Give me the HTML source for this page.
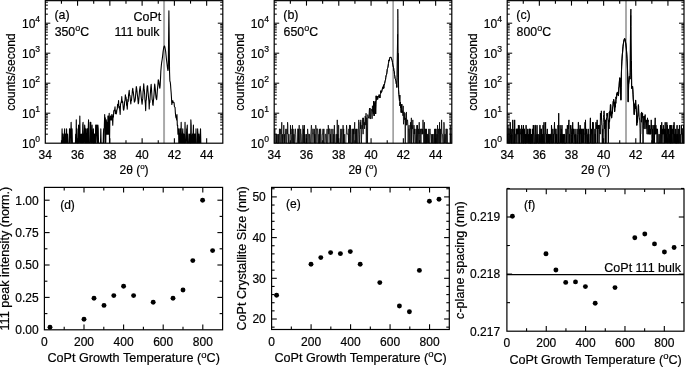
<!DOCTYPE html>
<html><head><meta charset="utf-8"><title>CoPt XRD</title>
<style>html,body{margin:0;padding:0;background:#fff;}svg{display:block;will-change:transform;filter:grayscale(1);}text{stroke:#000;stroke-width:0.2px;}</style></head>
<body>
<svg width="685" height="367" viewBox="0 0 685 367" font-family="'Liberation Sans', sans-serif" fill="#000">
<rect width="685" height="367" fill="#fff"/>
<clipPath id="c0"><rect x="45.3" y="0.65" width="177.5" height="142.55"/></clipPath>
<line x1="164.05" y1="0.65" x2="164.05" y2="143.2" stroke="#aaa" stroke-width="2.0"/>
<polyline clip-path="url(#c0)" fill="none" stroke="#000" stroke-width="1.1" stroke-linejoin="round" points="61.44,149.2 61.76,149.2 62.08,128.89 62.4,149.2 62.73,134.17 63.05,134.17 63.37,143.2 63.7,143.2 64.02,149.2 64.34,134.17 64.66,128.89 64.99,143.2 65.31,149.2 65.63,134.17 65.95,149.2 66.28,143.2 66.6,128.89 66.92,149.2 67.25,143.2 67.57,134.17 67.89,143.2 68.21,143.2 68.54,149.2 68.86,143.2 69.18,143.2 69.5,128.89 69.83,128.89 70.15,149.2 70.47,134.17 70.8,134.17 71.12,122.23 71.44,134.17 71.76,149.2 72.09,128.89 72.41,143.2 72.73,149.2 73.05,149.2 73.38,143.2 73.7,143.2 74.02,143.2 74.35,143.2 74.67,143.2 74.99,143.2 75.31,149.2 75.64,134.17 75.96,149.2 76.28,119.86 76.6,149.2 76.93,128.89 77.25,149.2 77.57,143.2 77.9,149.2 78.22,143.2 78.54,125.14 78.86,149.2 79.19,134.17 79.51,134.17 79.83,116.11 80.15,143.2 80.48,134.17 80.8,143.2 81.12,149.2 81.45,134.17 81.77,143.2 82.09,149.2 82.41,143.2 82.74,125.14 83.06,122.23 83.38,143.2 83.7,143.2 84.03,143.2 84.35,134.17 84.67,125.14 85,128.89 85.32,149.2 85.64,143.2 85.96,128.89 86.29,149.2 86.61,143.2 86.93,143.2 87.25,128.89 87.58,128.89 87.9,149.2 88.22,128.89 88.55,119.86 88.87,149.2 89.19,143.2 89.51,149.2 89.84,149.2 90.16,122.23 90.48,134.17 90.8,122.23 91.13,149.2 91.45,143.2 91.77,143.2 92.1,125.14 92.42,143.2 92.74,134.17 93.06,149.2 93.39,128.89 93.71,149.2 94.03,143.2 94.35,134.17 94.68,134.17 95,143.2 95.32,149.2 95.65,125.14 95.97,149.2 96.29,128.89 96.61,125.14 96.94,125.14 97.26,134.17 97.58,143.2 97.9,125.14 98.23,128.89 98.55,143.2 98.87,143.2 99.2,149.2 99.52,149.2 99.84,143.2 100.16,149.2 100.49,143.2 100.81,128.89 101.13,143.2 101.45,143.2 101.78,143.2 102.1,143.2 102.42,143.2 102.75,149.2 103.07,149.2 103.39,134.17 103.71,128.89 104.04,143.2 104.36,125.14 104.68,114.57 105,125.14 105.33,117.85 105.65,149.2 105.97,128.89 106.3,119.86 106.62,134.17 106.94,122.23 107.26,134.17 107.59,134.17 107.91,116.11 108.23,116.11 108.55,134.17 108.88,125.14 109.2,113.2 109.52,143.2 109.85,119.86 110.17,119.86 110.49,116.11 110.81,116.11 111.14,119.86 111.46,119.86 111.78,114.57 112.1,114.57 112.43,117.85 112.75,125.14 113.07,116.11 113.4,117.19 113.72,111.33 114.04,110.23 114.36,110.69 114.69,109.82 115.01,106.81 115.33,113.67 115.65,111.75 115.98,110.86 116.3,113.92 116.62,112.3 116.95,109.45 117.27,109.13 117.59,104.34 117.91,105.2 118.24,105.78 118.56,100.48 118.88,107.68 119.2,106.17 119.53,107.94 119.85,111.01 120.17,114.42 120.5,104.67 120.82,103 121.14,102.16 121.46,101.03 121.79,96.66 122.11,102.49 122.43,101.15 122.75,102.1 123.08,105.75 123.4,109.59 123.72,110.24 124.05,108.46 124.37,105.35 124.69,101.18 125.01,100.61 125.34,94.92 125.66,96.85 125.98,97.15 126.3,99.55 126.63,105.51 126.95,105.53 127.27,109.25 127.6,103.01 127.92,99.39 128.24,101.48 128.56,95.3 128.89,92.78 129.21,90.29 129.53,95.33 129.85,95.35 130.18,98.05 130.5,101.31 130.82,103.99 131.15,100.02 131.47,100.49 131.79,96.47 132.11,94.46 132.44,90.06 132.76,88.41 133.08,90.93 133.4,92.79 133.73,95.97 134.05,98.81 134.37,102.08 134.7,100.68 135.02,101.05 135.34,98.6 135.66,94.57 135.99,90.64 136.31,86.52 136.63,88.2 136.95,90.76 137.28,94.04 137.6,96.55 137.92,99.79 138.25,103.66 138.57,102.97 138.89,98.71 139.21,95.01 139.54,90.53 139.86,88.25 140.18,86.32 140.5,89.83 140.83,92.2 141.15,96.44 141.47,99.16 141.8,102.14 142.12,104.31 142.44,100.39 142.76,98.64 143.09,91.56 143.41,88.67 143.73,83.87 144.05,88.16 144.38,90.78 144.7,94.91 145.02,100.56 145.35,103.35 145.67,110.6 145.99,100.97 146.31,99.78 146.64,94.17 146.96,88.75 147.28,85.82 147.6,85.89 147.93,90.69 148.25,93.95 148.57,97.92 148.9,101.27 149.22,108.97 149.54,100.81 149.86,102.45 150.19,96.07 150.51,91.29 150.83,87.34 151.15,84.37 151.48,89.06 151.8,93.45 152.12,99.57 152.45,100.29 152.77,104.65 153.09,105.35 153.41,101.22 153.74,97.28 154.06,94.11 154.38,88.06 154.7,84.1 155.03,86.58 155.35,89.91 155.67,94.09 156,97.58 156.32,98.85 156.64,99.67 156.96,96.16 157.29,91.12 157.61,87.66 157.93,84.36 158.25,79.77 158.58,80.5 158.9,82.2 159.22,84.66 159.55,87.16 159.87,88.23 160.19,85.3 160.51,78.55 160.84,71.3 161.16,67.54 161.48,63.93 161.8,61.63 162.13,59.76 162.45,57.39 162.77,54.57 163.1,51.56 163.42,49.51 163.74,47.82 164.06,46.44 164.39,45.92 164.71,46.49 165.03,47.77 165.35,49.53 165.68,51.67 166,54.79 166.32,58.01 166.65,60.96 166.97,63.45 167.29,66.06 167.61,68.68 167.94,70.54 168.26,68.84 168.71,28.49 168.9,10.75 169.1,28.56 169.55,72.27 169.87,81.28 170.2,81.76 170.52,84.36 170.84,88.96 171.16,92.82 171.49,98 171.81,104.53 172.13,102.8 172.45,102.74 172.78,100.62 173.1,101.48 173.42,102.11 173.75,102.61 174.07,102.54 174.39,106.34 174.71,106.97 175.04,107.41 175.36,112.69 175.68,116.11 176,117.85 176.33,116.11 176.65,119.86 176.97,114.57 177.3,125.14 177.62,125.14 177.94,134.17 178.26,134.17 178.59,128.89 178.91,149.2 179.23,134.17 179.55,149.2 179.88,128.89 180.2,143.2 180.52,128.89 180.85,143.2 181.17,122.23 181.49,143.2 181.81,134.17 182.14,149.2 182.46,134.17 182.78,128.89 183.1,143.2 183.43,134.17 183.75,134.17 184.07,149.2 184.4,149.2 184.72,143.2 185.04,122.23 185.36,143.2 185.69,143.2 186.01,143.2 186.33,143.2 186.65,128.89 186.98,128.89 187.3,125.14 187.62,149.2 187.95,149.2 188.27,149.2 188.59,143.2 188.91,134.17 189.24,149.2 189.56,143.2 189.88,134.17 190.2,134.17 190.53,149.2 190.85,119.86 191.17,125.14 191.5,149.2 191.82,143.2 192.14,143.2 192.46,134.17 192.79,149.2 193.11,134.17 193.43,125.14 193.75,149.2 194.08,143.2 194.4,134.17 194.72,149.2 195.05,134.17 195.37,143.2 195.69,143.2 196.01,128.89 196.34,149.2 196.66,149.2 196.98,149.2 197.3,149.2 197.63,128.89 197.95,134.17 198.27,143.2 198.6,149.2 198.92,134.17 199.24,143.2 199.56,149.2 199.89,143.2 200.21,134.17 200.53,128.89 200.85,143.2"/>
<rect x="45.3" y="0.65" width="177.5" height="142.55" fill="none" stroke="#000" stroke-width="1.2"/>
<line x1="61.44" y1="143.2" x2="61.44" y2="140.2" stroke="#000" stroke-width="1.1"/>
<line x1="61.44" y1="0.65" x2="61.44" y2="3.65" stroke="#000" stroke-width="1.1"/>
<line x1="77.57" y1="143.2" x2="77.57" y2="138.2" stroke="#000" stroke-width="1.1"/>
<line x1="77.57" y1="0.65" x2="77.57" y2="5.65" stroke="#000" stroke-width="1.1"/>
<line x1="93.71" y1="143.2" x2="93.71" y2="140.2" stroke="#000" stroke-width="1.1"/>
<line x1="93.71" y1="0.65" x2="93.71" y2="3.65" stroke="#000" stroke-width="1.1"/>
<line x1="109.85" y1="143.2" x2="109.85" y2="138.2" stroke="#000" stroke-width="1.1"/>
<line x1="109.85" y1="0.65" x2="109.85" y2="5.65" stroke="#000" stroke-width="1.1"/>
<line x1="125.98" y1="143.2" x2="125.98" y2="140.2" stroke="#000" stroke-width="1.1"/>
<line x1="125.98" y1="0.65" x2="125.98" y2="3.65" stroke="#000" stroke-width="1.1"/>
<line x1="142.12" y1="143.2" x2="142.12" y2="138.2" stroke="#000" stroke-width="1.1"/>
<line x1="142.12" y1="0.65" x2="142.12" y2="5.65" stroke="#000" stroke-width="1.1"/>
<line x1="158.25" y1="143.2" x2="158.25" y2="140.2" stroke="#000" stroke-width="1.1"/>
<line x1="158.25" y1="0.65" x2="158.25" y2="3.65" stroke="#000" stroke-width="1.1"/>
<line x1="174.39" y1="143.2" x2="174.39" y2="138.2" stroke="#000" stroke-width="1.1"/>
<line x1="174.39" y1="0.65" x2="174.39" y2="5.65" stroke="#000" stroke-width="1.1"/>
<line x1="190.53" y1="143.2" x2="190.53" y2="140.2" stroke="#000" stroke-width="1.1"/>
<line x1="190.53" y1="0.65" x2="190.53" y2="3.65" stroke="#000" stroke-width="1.1"/>
<line x1="206.66" y1="143.2" x2="206.66" y2="138.2" stroke="#000" stroke-width="1.1"/>
<line x1="206.66" y1="0.65" x2="206.66" y2="5.65" stroke="#000" stroke-width="1.1"/>
<text x="45.3" y="158.6" text-anchor="middle" font-size="12" >34</text>
<text x="77.57" y="158.6" text-anchor="middle" font-size="12" >36</text>
<text x="109.85" y="158.6" text-anchor="middle" font-size="12" >38</text>
<text x="142.12" y="158.6" text-anchor="middle" font-size="12" >40</text>
<text x="174.39" y="158.6" text-anchor="middle" font-size="12" >42</text>
<text x="206.66" y="158.6" text-anchor="middle" font-size="12" >44</text>
<line x1="45.3" y1="134.17" x2="47.9" y2="134.17" stroke="#000" stroke-width="1.0"/>
<line x1="222.8" y1="134.17" x2="220.2" y2="134.17" stroke="#000" stroke-width="1.0"/>
<line x1="45.3" y1="128.89" x2="47.9" y2="128.89" stroke="#000" stroke-width="1.0"/>
<line x1="222.8" y1="128.89" x2="220.2" y2="128.89" stroke="#000" stroke-width="1.0"/>
<line x1="45.3" y1="125.14" x2="47.9" y2="125.14" stroke="#000" stroke-width="1.0"/>
<line x1="222.8" y1="125.14" x2="220.2" y2="125.14" stroke="#000" stroke-width="1.0"/>
<line x1="45.3" y1="122.23" x2="47.9" y2="122.23" stroke="#000" stroke-width="1.0"/>
<line x1="222.8" y1="122.23" x2="220.2" y2="122.23" stroke="#000" stroke-width="1.0"/>
<line x1="45.3" y1="119.86" x2="47.9" y2="119.86" stroke="#000" stroke-width="1.0"/>
<line x1="222.8" y1="119.86" x2="220.2" y2="119.86" stroke="#000" stroke-width="1.0"/>
<line x1="45.3" y1="117.85" x2="47.9" y2="117.85" stroke="#000" stroke-width="1.0"/>
<line x1="222.8" y1="117.85" x2="220.2" y2="117.85" stroke="#000" stroke-width="1.0"/>
<line x1="45.3" y1="116.11" x2="47.9" y2="116.11" stroke="#000" stroke-width="1.0"/>
<line x1="222.8" y1="116.11" x2="220.2" y2="116.11" stroke="#000" stroke-width="1.0"/>
<line x1="45.3" y1="114.57" x2="47.9" y2="114.57" stroke="#000" stroke-width="1.0"/>
<line x1="222.8" y1="114.57" x2="220.2" y2="114.57" stroke="#000" stroke-width="1.0"/>
<line x1="45.3" y1="113.2" x2="50.3" y2="113.2" stroke="#000" stroke-width="1.0"/>
<line x1="222.8" y1="113.2" x2="217.8" y2="113.2" stroke="#000" stroke-width="1.0"/>
<line x1="45.3" y1="104.17" x2="47.9" y2="104.17" stroke="#000" stroke-width="1.0"/>
<line x1="222.8" y1="104.17" x2="220.2" y2="104.17" stroke="#000" stroke-width="1.0"/>
<line x1="45.3" y1="98.89" x2="47.9" y2="98.89" stroke="#000" stroke-width="1.0"/>
<line x1="222.8" y1="98.89" x2="220.2" y2="98.89" stroke="#000" stroke-width="1.0"/>
<line x1="45.3" y1="95.14" x2="47.9" y2="95.14" stroke="#000" stroke-width="1.0"/>
<line x1="222.8" y1="95.14" x2="220.2" y2="95.14" stroke="#000" stroke-width="1.0"/>
<line x1="45.3" y1="92.23" x2="47.9" y2="92.23" stroke="#000" stroke-width="1.0"/>
<line x1="222.8" y1="92.23" x2="220.2" y2="92.23" stroke="#000" stroke-width="1.0"/>
<line x1="45.3" y1="89.86" x2="47.9" y2="89.86" stroke="#000" stroke-width="1.0"/>
<line x1="222.8" y1="89.86" x2="220.2" y2="89.86" stroke="#000" stroke-width="1.0"/>
<line x1="45.3" y1="87.85" x2="47.9" y2="87.85" stroke="#000" stroke-width="1.0"/>
<line x1="222.8" y1="87.85" x2="220.2" y2="87.85" stroke="#000" stroke-width="1.0"/>
<line x1="45.3" y1="86.11" x2="47.9" y2="86.11" stroke="#000" stroke-width="1.0"/>
<line x1="222.8" y1="86.11" x2="220.2" y2="86.11" stroke="#000" stroke-width="1.0"/>
<line x1="45.3" y1="84.57" x2="47.9" y2="84.57" stroke="#000" stroke-width="1.0"/>
<line x1="222.8" y1="84.57" x2="220.2" y2="84.57" stroke="#000" stroke-width="1.0"/>
<line x1="45.3" y1="83.2" x2="50.3" y2="83.2" stroke="#000" stroke-width="1.0"/>
<line x1="222.8" y1="83.2" x2="217.8" y2="83.2" stroke="#000" stroke-width="1.0"/>
<line x1="45.3" y1="74.17" x2="47.9" y2="74.17" stroke="#000" stroke-width="1.0"/>
<line x1="222.8" y1="74.17" x2="220.2" y2="74.17" stroke="#000" stroke-width="1.0"/>
<line x1="45.3" y1="68.89" x2="47.9" y2="68.89" stroke="#000" stroke-width="1.0"/>
<line x1="222.8" y1="68.89" x2="220.2" y2="68.89" stroke="#000" stroke-width="1.0"/>
<line x1="45.3" y1="65.14" x2="47.9" y2="65.14" stroke="#000" stroke-width="1.0"/>
<line x1="222.8" y1="65.14" x2="220.2" y2="65.14" stroke="#000" stroke-width="1.0"/>
<line x1="45.3" y1="62.23" x2="47.9" y2="62.23" stroke="#000" stroke-width="1.0"/>
<line x1="222.8" y1="62.23" x2="220.2" y2="62.23" stroke="#000" stroke-width="1.0"/>
<line x1="45.3" y1="59.86" x2="47.9" y2="59.86" stroke="#000" stroke-width="1.0"/>
<line x1="222.8" y1="59.86" x2="220.2" y2="59.86" stroke="#000" stroke-width="1.0"/>
<line x1="45.3" y1="57.85" x2="47.9" y2="57.85" stroke="#000" stroke-width="1.0"/>
<line x1="222.8" y1="57.85" x2="220.2" y2="57.85" stroke="#000" stroke-width="1.0"/>
<line x1="45.3" y1="56.11" x2="47.9" y2="56.11" stroke="#000" stroke-width="1.0"/>
<line x1="222.8" y1="56.11" x2="220.2" y2="56.11" stroke="#000" stroke-width="1.0"/>
<line x1="45.3" y1="54.57" x2="47.9" y2="54.57" stroke="#000" stroke-width="1.0"/>
<line x1="222.8" y1="54.57" x2="220.2" y2="54.57" stroke="#000" stroke-width="1.0"/>
<line x1="45.3" y1="53.2" x2="50.3" y2="53.2" stroke="#000" stroke-width="1.0"/>
<line x1="222.8" y1="53.2" x2="217.8" y2="53.2" stroke="#000" stroke-width="1.0"/>
<line x1="45.3" y1="44.17" x2="47.9" y2="44.17" stroke="#000" stroke-width="1.0"/>
<line x1="222.8" y1="44.17" x2="220.2" y2="44.17" stroke="#000" stroke-width="1.0"/>
<line x1="45.3" y1="38.89" x2="47.9" y2="38.89" stroke="#000" stroke-width="1.0"/>
<line x1="222.8" y1="38.89" x2="220.2" y2="38.89" stroke="#000" stroke-width="1.0"/>
<line x1="45.3" y1="35.14" x2="47.9" y2="35.14" stroke="#000" stroke-width="1.0"/>
<line x1="222.8" y1="35.14" x2="220.2" y2="35.14" stroke="#000" stroke-width="1.0"/>
<line x1="45.3" y1="32.23" x2="47.9" y2="32.23" stroke="#000" stroke-width="1.0"/>
<line x1="222.8" y1="32.23" x2="220.2" y2="32.23" stroke="#000" stroke-width="1.0"/>
<line x1="45.3" y1="29.86" x2="47.9" y2="29.86" stroke="#000" stroke-width="1.0"/>
<line x1="222.8" y1="29.86" x2="220.2" y2="29.86" stroke="#000" stroke-width="1.0"/>
<line x1="45.3" y1="27.85" x2="47.9" y2="27.85" stroke="#000" stroke-width="1.0"/>
<line x1="222.8" y1="27.85" x2="220.2" y2="27.85" stroke="#000" stroke-width="1.0"/>
<line x1="45.3" y1="26.11" x2="47.9" y2="26.11" stroke="#000" stroke-width="1.0"/>
<line x1="222.8" y1="26.11" x2="220.2" y2="26.11" stroke="#000" stroke-width="1.0"/>
<line x1="45.3" y1="24.57" x2="47.9" y2="24.57" stroke="#000" stroke-width="1.0"/>
<line x1="222.8" y1="24.57" x2="220.2" y2="24.57" stroke="#000" stroke-width="1.0"/>
<line x1="45.3" y1="23.2" x2="50.3" y2="23.2" stroke="#000" stroke-width="1.0"/>
<line x1="222.8" y1="23.2" x2="217.8" y2="23.2" stroke="#000" stroke-width="1.0"/>
<line x1="45.3" y1="14.17" x2="47.9" y2="14.17" stroke="#000" stroke-width="1.0"/>
<line x1="222.8" y1="14.17" x2="220.2" y2="14.17" stroke="#000" stroke-width="1.0"/>
<line x1="45.3" y1="8.89" x2="47.9" y2="8.89" stroke="#000" stroke-width="1.0"/>
<line x1="222.8" y1="8.89" x2="220.2" y2="8.89" stroke="#000" stroke-width="1.0"/>
<line x1="45.3" y1="5.14" x2="47.9" y2="5.14" stroke="#000" stroke-width="1.0"/>
<line x1="222.8" y1="5.14" x2="220.2" y2="5.14" stroke="#000" stroke-width="1.0"/>
<line x1="45.3" y1="2.23" x2="47.9" y2="2.23" stroke="#000" stroke-width="1.0"/>
<line x1="222.8" y1="2.23" x2="220.2" y2="2.23" stroke="#000" stroke-width="1.0"/>
<text x="40.1" y="147.6" text-anchor="end" font-size="12">10<tspan font-size="8.6" dy="-5.2">0</tspan></text>
<text x="40.1" y="117.6" text-anchor="end" font-size="12">10<tspan font-size="8.6" dy="-5.2">1</tspan></text>
<text x="40.1" y="87.6" text-anchor="end" font-size="12">10<tspan font-size="8.6" dy="-5.2">2</tspan></text>
<text x="40.1" y="57.6" text-anchor="end" font-size="12">10<tspan font-size="8.6" dy="-5.2">3</tspan></text>
<text x="40.1" y="27.6" text-anchor="end" font-size="12">10<tspan font-size="8.6" dy="-5.2">4</tspan></text>
<text transform="translate(15.2 72) rotate(-90)" text-anchor="middle" font-size="12">counts/second</text>
<text x="134.05" y="173.8" text-anchor="middle" font-size="12">2&#952; (<tspan font-size="8" dy="-4.7">o</tspan><tspan dy="4.7">)</tspan></text>
<text x="54.4" y="19.3" text-anchor="start" font-size="12.4" >(a)</text>
<text x="54.7" y="35.9" text-anchor="start" font-size="12.3" >350<tspan font-size="9" dy="-4.7">o</tspan><tspan dy="4.7">C</tspan></text>
<text x="161.2" y="21" text-anchor="end" font-size="12.45" >CoPt</text>
<text x="159.6" y="36.4" text-anchor="end" font-size="12.45" >111 bulk</text>
<clipPath id="c1"><rect x="274.2" y="0.65" width="177.6" height="142.55"/></clipPath>
<line x1="393.1" y1="0.65" x2="393.1" y2="143.2" stroke="#858585" stroke-width="1.3"/>
<polyline clip-path="url(#c1)" fill="none" stroke="#000" stroke-width="0.8" stroke-linejoin="round" points="274.2,143.2 274.49,149.2 274.78,128.89 275.07,143.2 275.36,149.2 275.65,149.2 275.94,134.17 276.23,134.17 276.52,143.2 276.82,134.17 277.11,143.2 277.4,143.2 277.69,149.2 277.98,134.17 278.27,149.2 278.56,149.2 278.85,134.17 279.14,143.2 279.43,128.89 279.72,128.89 280.01,134.17 280.3,128.89 280.59,149.2 280.88,149.2 281.17,149.2 281.47,134.17 281.76,122.23 282.05,143.2 282.34,143.2 282.63,134.17 282.92,149.2 283.21,143.2 283.5,134.17 283.79,125.14 284.08,134.17 284.37,143.2 284.66,134.17 284.95,143.2 285.24,134.17 285.53,134.17 285.82,128.89 286.12,149.2 286.41,149.2 286.7,134.17 286.99,128.89 287.28,134.17 287.57,122.23 287.86,125.14 288.15,149.2 288.44,143.2 288.73,134.17 289.02,134.17 289.31,149.2 289.6,143.2 289.89,143.2 290.18,149.2 290.47,125.14 290.77,134.17 291.06,128.89 291.35,134.17 291.64,143.2 291.93,143.2 292.22,134.17 292.51,125.14 292.8,143.2 293.09,128.89 293.38,143.2 293.67,143.2 293.96,134.17 294.25,149.2 294.54,143.2 294.83,134.17 295.12,128.89 295.42,128.89 295.71,134.17 296,143.2 296.29,149.2 296.58,143.2 296.87,149.2 297.16,149.2 297.45,143.2 297.74,128.89 298.03,128.89 298.32,143.2 298.61,128.89 298.9,149.2 299.19,125.14 299.48,143.2 299.77,149.2 300.07,143.2 300.36,143.2 300.65,128.89 300.94,134.17 301.23,134.17 301.52,143.2 301.81,143.2 302.1,149.2 302.39,149.2 302.68,134.17 302.97,125.14 303.26,143.2 303.55,128.89 303.84,134.17 304.13,143.2 304.42,125.14 304.71,143.2 305.01,134.17 305.3,149.2 305.59,143.2 305.88,143.2 306.17,143.2 306.46,134.17 306.75,143.2 307.04,143.2 307.33,149.2 307.62,128.89 307.91,134.17 308.2,134.17 308.49,134.17 308.78,143.2 309.07,143.2 309.36,134.17 309.66,134.17 309.95,149.2 310.24,143.2 310.53,143.2 310.82,134.17 311.11,128.89 311.4,125.14 311.69,128.89 311.98,149.2 312.27,134.17 312.56,134.17 312.85,128.89 313.14,128.89 313.43,134.17 313.72,134.17 314.01,143.2 314.31,128.89 314.6,143.2 314.89,134.17 315.18,149.2 315.47,143.2 315.76,125.14 316.05,128.89 316.34,128.89 316.63,128.89 316.92,143.2 317.21,128.89 317.5,128.89 317.79,128.89 318.08,134.17 318.37,143.2 318.66,149.2 318.96,134.17 319.25,149.2 319.54,128.89 319.83,143.2 320.12,149.2 320.41,128.89 320.7,128.89 320.99,143.2 321.28,143.2 321.57,143.2 321.86,143.2 322.15,134.17 322.44,134.17 322.73,134.17 323.02,128.89 323.31,149.2 323.61,143.2 323.9,128.89 324.19,149.2 324.48,143.2 324.77,143.2 325.06,143.2 325.35,134.17 325.64,134.17 325.93,134.17 326.22,143.2 326.51,149.2 326.8,134.17 327.09,128.89 327.38,149.2 327.67,143.2 327.96,149.2 328.25,125.14 328.55,128.89 328.84,134.17 329.13,128.89 329.42,128.89 329.71,128.89 330,149.2 330.29,134.17 330.58,143.2 330.87,134.17 331.16,128.89 331.45,143.2 331.74,143.2 332.03,143.2 332.32,143.2 332.61,143.2 332.9,128.89 333.2,143.2 333.49,149.2 333.78,134.17 334.07,143.2 334.36,125.14 334.65,134.17 334.94,143.2 335.23,149.2 335.52,143.2 335.81,149.2 336.1,134.17 336.39,134.17 336.68,149.2 336.97,143.2 337.26,119.86 337.55,143.2 337.85,134.17 338.14,143.2 338.43,125.14 338.72,125.14 339.01,149.2 339.3,143.2 339.59,143.2 339.88,149.2 340.17,149.2 340.46,143.2 340.75,128.89 341.04,143.2 341.33,134.17 341.62,134.17 341.91,128.89 342.2,149.2 342.5,149.2 342.79,149.2 343.08,125.14 343.37,149.2 343.66,128.89 343.95,143.2 344.24,134.17 344.53,143.2 344.82,143.2 345.11,143.2 345.4,143.2 345.69,149.2 345.98,134.17 346.27,134.17 346.56,125.14 346.85,128.89 347.15,134.17 347.44,134.17 347.73,134.17 348.02,134.17 348.31,134.17 348.6,143.2 348.89,128.89 349.18,143.2 349.47,125.14 349.76,125.14 350.05,143.2 350.34,125.14 350.63,134.17 350.92,149.2 351.21,143.2 351.5,143.2 351.8,149.2 352.09,128.89 352.38,149.2 352.67,149.2 352.96,128.89 353.25,143.2 353.54,128.89 353.83,134.17 354.12,128.89 354.41,128.89 354.7,122.23 354.99,143.2 355.28,128.89 355.57,134.17 355.86,143.2 356.15,134.17 356.44,128.89 356.74,149.2 357.03,128.89 357.32,143.2 357.61,149.2 357.9,143.2 358.19,143.2 358.48,125.14 358.77,119.86 359.06,128.89 359.35,134.17 359.64,149.2 359.93,128.89 360.22,122.23 360.51,128.89 360.8,119.86 361.09,125.14 361.39,143.2 361.68,134.17 361.97,125.14 362.26,128.89 362.55,119.86 362.84,117.85 363.13,134.17 363.42,117.85 363.71,122.23 364,125.14 364.29,122.23 364.58,128.89 364.87,122.23 365.16,116.11 365.45,117.85 365.74,125.14 366.04,113.2 366.33,143.2 366.62,117.85 366.91,117.85 367.2,125.14 367.49,143.2 367.78,114.57 368.07,116.11 368.36,118.24 368.65,116.63 368.94,115.91 369.23,110.96 369.52,108.14 369.81,118.5 370.1,108.04 370.39,117.34 370.69,119.05 370.98,114.67 371.27,109.09 371.56,109.25 371.85,111.55 372.14,118.72 372.43,105.75 372.72,111.59 373.01,109.33 373.3,113.69 373.59,101.17 373.88,109.63 374.17,115.84 374.46,102.9 374.75,105.75 375.04,101.72 375.34,101.28 375.63,113.94 375.92,104.19 376.21,95.83 376.5,100.17 376.79,99.6 377.08,97.62 377.37,96.54 377.66,99.31 377.95,96.46 378.24,96.26 378.53,97.05 378.82,97.15 379.11,94.79 379.4,95.15 379.69,97.75 379.99,98.02 380.28,94.37 380.57,93.86 380.86,90.73 381.15,92.49 381.44,91.88 381.73,91.83 382.02,90.17 382.31,89.2 382.6,87.52 382.89,89.02 383.18,86.79 383.47,85.48 383.76,88.23 384.05,84.53 384.34,85.05 384.63,83.44 384.93,81.9 385.22,80.66 385.51,79.89 385.8,77.44 386.09,75.7 386.38,74.97 386.67,74.18 386.96,72.17 387.25,69.26 387.54,68.44 387.83,67.48 388.12,66.07 388.41,63.61 388.7,62.1 388.99,59.89 389.28,60.75 389.58,58.86 389.87,57.76 390.16,57.08 390.45,57.77 390.74,56.93 391.03,57.43 391.32,57.96 391.61,58.74 391.9,60.2 392.19,60.58 392.48,62.55 392.77,64.51 393.06,65.75 393.35,67.09 393.64,67.97 393.93,71.07 394.23,71.28 394.52,74.72 394.81,76.19 395.1,78.68 395.39,78.92 395.68,80.45 395.97,81.03 396.26,83.81 396.55,84.44 396.84,87.41 397.13,77.81 397.6,34.14 397.79,9.11 397.99,18.33 398.29,53.11 398.58,89.8 398.88,94.52 399.17,96.83 399.46,100.62 399.75,95.09 400.04,105.95 400.33,102.16 400.62,107.6 400.91,106.17 401.2,112.51 401.49,106.83 401.78,104.22 402.07,112.89 402.36,110.71 402.65,110.85 402.94,115.83 403.23,105.89 403.53,124.28 403.82,121.14 404.11,111.92 404.4,116.95 404.69,119.86 404.98,113.2 405.27,149.2 405.56,117.85 405.85,119.86 406.14,125.14 406.43,111.96 406.72,125.14 407.01,125.14 407.3,119.86 407.59,119.86 407.88,125.14 408.17,143.2 408.47,128.89 408.76,128.89 409.05,125.14 409.34,143.2 409.63,128.89 409.92,128.89 410.21,128.89 410.5,122.23 410.79,143.2 411.08,134.17 411.37,117.85 411.66,149.2 411.95,125.14 412.24,128.89 412.53,128.89 412.82,119.86 413.12,134.17 413.41,143.2 413.7,134.17 413.99,125.14 414.28,134.17 414.57,128.89 414.86,143.2 415.15,143.2 415.44,143.2 415.73,134.17 416.02,128.89 416.31,134.17 416.6,143.2 416.89,125.14 417.18,149.2 417.47,125.14 417.77,134.17 418.06,143.2 418.35,143.2 418.64,128.89 418.93,134.17 419.22,122.23 419.51,134.17 419.8,143.2 420.09,134.17 420.38,128.89 420.67,134.17 420.96,143.2 421.25,128.89 421.54,128.89 421.83,134.17 422.12,134.17 422.42,128.89 422.71,134.17 423,119.86 423.29,128.89 423.58,134.17 423.87,149.2 424.16,125.14 424.45,122.23 424.74,143.2 425.03,128.89 425.32,149.2 425.61,128.89 425.9,134.17 426.19,149.2 426.48,128.89 426.77,143.2 427.07,134.17 427.36,143.2 427.65,134.17 427.94,134.17 428.23,134.17 428.52,143.2 428.81,128.89 429.1,149.2 429.39,149.2 429.68,134.17 429.97,128.89 430.26,134.17 430.55,134.17 430.84,134.17 431.13,143.2 431.42,143.2 431.72,134.17 432.01,143.2 432.3,143.2 432.59,134.17 432.88,149.2 433.17,149.2 433.46,149.2 433.75,134.17 434.04,134.17 434.33,143.2 434.62,128.89 434.91,149.2 435.2,143.2 435.49,128.89 435.78,143.2 436.07,128.89 436.36,143.2 436.66,143.2 436.95,134.17 437.24,149.2 437.53,125.14 437.82,134.17 438.11,143.2 438.4,134.17 438.69,128.89 438.98,143.2 439.27,143.2 439.56,122.23 439.85,143.2 440.14,143.2 440.43,128.89 440.72,149.2 441.01,143.2 441.31,134.17 441.6,119.86 441.89,134.17 442.18,134.17 442.47,134.17 442.76,143.2 443.05,143.2 443.34,149.2 443.63,134.17 443.92,122.23 444.21,125.14 444.5,143.2 444.79,134.17 445.08,134.17 445.37,134.17 445.66,143.2 445.96,128.89 446.25,128.89 446.54,134.17 446.83,149.2 447.12,128.89 447.41,143.2 447.7,149.2 447.99,143.2 448.28,143.2 448.57,143.2 448.86,149.2 449.15,143.2 449.44,149.2 449.73,149.2 450.02,143.2 450.31,125.14 450.61,149.2 450.9,134.17 451.19,149.2 451.48,149.2 451.77,143.2"/>
<polyline clip-path="url(#c1)" fill="none" stroke="#000" stroke-width="1.0" stroke-linejoin="round" points="373.3,113.69 373.59,101.17 373.88,109.63 374.17,115.84 374.46,102.9 374.75,105.75 375.04,101.72 375.34,101.28 375.63,113.94 375.92,104.19 376.21,95.83 376.5,100.17 376.79,99.6 377.08,97.62 377.37,96.54 377.66,99.31 377.95,96.46 378.24,96.26 378.53,97.05 378.82,97.15 379.11,94.79 379.4,95.15 379.69,97.75 379.99,98.02 380.28,94.37 380.57,93.86 380.86,90.73 381.15,92.49 381.44,91.88 381.73,91.83 382.02,90.17 382.31,89.2 382.6,87.52 382.89,89.02 383.18,86.79 383.47,85.48 383.76,88.23 384.05,84.53 384.34,85.05 384.63,83.44 384.93,81.9 385.22,80.66 385.51,79.89 385.8,77.44 386.09,75.7 386.38,74.97 386.67,74.18 386.96,72.17 387.25,69.26 387.54,68.44 387.83,67.48 388.12,66.07 388.41,63.61 388.7,62.1 388.99,59.89 389.28,60.75 389.58,58.86 389.87,57.76 390.16,57.08 390.45,57.77 390.74,56.93 391.03,57.43 391.32,57.96 391.61,58.74 391.9,60.2 392.19,60.58 392.48,62.55 392.77,64.51 393.06,65.75 393.35,67.09 393.64,67.97 393.93,71.07 394.23,71.28 394.52,74.72 394.81,76.19 395.1,78.68 395.39,78.92 395.68,80.45 395.97,81.03 396.26,83.81 396.55,84.44 396.84,87.41 397.13,77.81 397.6,34.14"/>
<polyline clip-path="url(#c1)" fill="none" stroke="#000" stroke-width="1.0" stroke-linejoin="round" points="398.29,53.11 398.58,89.8 398.88,94.52 399.17,96.83 399.46,100.62 399.75,95.09 400.04,105.95 400.33,102.16 400.62,107.6 400.91,106.17 401.2,112.51 401.49,106.83 401.78,104.22 402.07,112.89"/>
<rect x="274.2" y="0.65" width="177.6" height="142.55" fill="none" stroke="#000" stroke-width="1.2"/>
<line x1="290.35" y1="143.2" x2="290.35" y2="140.2" stroke="#000" stroke-width="1.1"/>
<line x1="290.35" y1="0.65" x2="290.35" y2="3.65" stroke="#000" stroke-width="1.1"/>
<line x1="306.49" y1="143.2" x2="306.49" y2="138.2" stroke="#000" stroke-width="1.1"/>
<line x1="306.49" y1="0.65" x2="306.49" y2="5.65" stroke="#000" stroke-width="1.1"/>
<line x1="322.64" y1="143.2" x2="322.64" y2="140.2" stroke="#000" stroke-width="1.1"/>
<line x1="322.64" y1="0.65" x2="322.64" y2="3.65" stroke="#000" stroke-width="1.1"/>
<line x1="338.78" y1="143.2" x2="338.78" y2="138.2" stroke="#000" stroke-width="1.1"/>
<line x1="338.78" y1="0.65" x2="338.78" y2="5.65" stroke="#000" stroke-width="1.1"/>
<line x1="354.93" y1="143.2" x2="354.93" y2="140.2" stroke="#000" stroke-width="1.1"/>
<line x1="354.93" y1="0.65" x2="354.93" y2="3.65" stroke="#000" stroke-width="1.1"/>
<line x1="371.07" y1="143.2" x2="371.07" y2="138.2" stroke="#000" stroke-width="1.1"/>
<line x1="371.07" y1="0.65" x2="371.07" y2="5.65" stroke="#000" stroke-width="1.1"/>
<line x1="387.22" y1="143.2" x2="387.22" y2="140.2" stroke="#000" stroke-width="1.1"/>
<line x1="387.22" y1="0.65" x2="387.22" y2="3.65" stroke="#000" stroke-width="1.1"/>
<line x1="403.36" y1="143.2" x2="403.36" y2="138.2" stroke="#000" stroke-width="1.1"/>
<line x1="403.36" y1="0.65" x2="403.36" y2="5.65" stroke="#000" stroke-width="1.1"/>
<line x1="419.51" y1="143.2" x2="419.51" y2="140.2" stroke="#000" stroke-width="1.1"/>
<line x1="419.51" y1="0.65" x2="419.51" y2="3.65" stroke="#000" stroke-width="1.1"/>
<line x1="435.65" y1="143.2" x2="435.65" y2="138.2" stroke="#000" stroke-width="1.1"/>
<line x1="435.65" y1="0.65" x2="435.65" y2="5.65" stroke="#000" stroke-width="1.1"/>
<text x="274.2" y="158.6" text-anchor="middle" font-size="12" >34</text>
<text x="306.49" y="158.6" text-anchor="middle" font-size="12" >36</text>
<text x="338.78" y="158.6" text-anchor="middle" font-size="12" >38</text>
<text x="371.07" y="158.6" text-anchor="middle" font-size="12" >40</text>
<text x="403.36" y="158.6" text-anchor="middle" font-size="12" >42</text>
<text x="435.65" y="158.6" text-anchor="middle" font-size="12" >44</text>
<line x1="274.2" y1="134.17" x2="276.8" y2="134.17" stroke="#000" stroke-width="1.0"/>
<line x1="451.8" y1="134.17" x2="449.2" y2="134.17" stroke="#000" stroke-width="1.0"/>
<line x1="274.2" y1="128.89" x2="276.8" y2="128.89" stroke="#000" stroke-width="1.0"/>
<line x1="451.8" y1="128.89" x2="449.2" y2="128.89" stroke="#000" stroke-width="1.0"/>
<line x1="274.2" y1="125.14" x2="276.8" y2="125.14" stroke="#000" stroke-width="1.0"/>
<line x1="451.8" y1="125.14" x2="449.2" y2="125.14" stroke="#000" stroke-width="1.0"/>
<line x1="274.2" y1="122.23" x2="276.8" y2="122.23" stroke="#000" stroke-width="1.0"/>
<line x1="451.8" y1="122.23" x2="449.2" y2="122.23" stroke="#000" stroke-width="1.0"/>
<line x1="274.2" y1="119.86" x2="276.8" y2="119.86" stroke="#000" stroke-width="1.0"/>
<line x1="451.8" y1="119.86" x2="449.2" y2="119.86" stroke="#000" stroke-width="1.0"/>
<line x1="274.2" y1="117.85" x2="276.8" y2="117.85" stroke="#000" stroke-width="1.0"/>
<line x1="451.8" y1="117.85" x2="449.2" y2="117.85" stroke="#000" stroke-width="1.0"/>
<line x1="274.2" y1="116.11" x2="276.8" y2="116.11" stroke="#000" stroke-width="1.0"/>
<line x1="451.8" y1="116.11" x2="449.2" y2="116.11" stroke="#000" stroke-width="1.0"/>
<line x1="274.2" y1="114.57" x2="276.8" y2="114.57" stroke="#000" stroke-width="1.0"/>
<line x1="451.8" y1="114.57" x2="449.2" y2="114.57" stroke="#000" stroke-width="1.0"/>
<line x1="274.2" y1="113.2" x2="279.2" y2="113.2" stroke="#000" stroke-width="1.0"/>
<line x1="451.8" y1="113.2" x2="446.8" y2="113.2" stroke="#000" stroke-width="1.0"/>
<line x1="274.2" y1="104.17" x2="276.8" y2="104.17" stroke="#000" stroke-width="1.0"/>
<line x1="451.8" y1="104.17" x2="449.2" y2="104.17" stroke="#000" stroke-width="1.0"/>
<line x1="274.2" y1="98.89" x2="276.8" y2="98.89" stroke="#000" stroke-width="1.0"/>
<line x1="451.8" y1="98.89" x2="449.2" y2="98.89" stroke="#000" stroke-width="1.0"/>
<line x1="274.2" y1="95.14" x2="276.8" y2="95.14" stroke="#000" stroke-width="1.0"/>
<line x1="451.8" y1="95.14" x2="449.2" y2="95.14" stroke="#000" stroke-width="1.0"/>
<line x1="274.2" y1="92.23" x2="276.8" y2="92.23" stroke="#000" stroke-width="1.0"/>
<line x1="451.8" y1="92.23" x2="449.2" y2="92.23" stroke="#000" stroke-width="1.0"/>
<line x1="274.2" y1="89.86" x2="276.8" y2="89.86" stroke="#000" stroke-width="1.0"/>
<line x1="451.8" y1="89.86" x2="449.2" y2="89.86" stroke="#000" stroke-width="1.0"/>
<line x1="274.2" y1="87.85" x2="276.8" y2="87.85" stroke="#000" stroke-width="1.0"/>
<line x1="451.8" y1="87.85" x2="449.2" y2="87.85" stroke="#000" stroke-width="1.0"/>
<line x1="274.2" y1="86.11" x2="276.8" y2="86.11" stroke="#000" stroke-width="1.0"/>
<line x1="451.8" y1="86.11" x2="449.2" y2="86.11" stroke="#000" stroke-width="1.0"/>
<line x1="274.2" y1="84.57" x2="276.8" y2="84.57" stroke="#000" stroke-width="1.0"/>
<line x1="451.8" y1="84.57" x2="449.2" y2="84.57" stroke="#000" stroke-width="1.0"/>
<line x1="274.2" y1="83.2" x2="279.2" y2="83.2" stroke="#000" stroke-width="1.0"/>
<line x1="451.8" y1="83.2" x2="446.8" y2="83.2" stroke="#000" stroke-width="1.0"/>
<line x1="274.2" y1="74.17" x2="276.8" y2="74.17" stroke="#000" stroke-width="1.0"/>
<line x1="451.8" y1="74.17" x2="449.2" y2="74.17" stroke="#000" stroke-width="1.0"/>
<line x1="274.2" y1="68.89" x2="276.8" y2="68.89" stroke="#000" stroke-width="1.0"/>
<line x1="451.8" y1="68.89" x2="449.2" y2="68.89" stroke="#000" stroke-width="1.0"/>
<line x1="274.2" y1="65.14" x2="276.8" y2="65.14" stroke="#000" stroke-width="1.0"/>
<line x1="451.8" y1="65.14" x2="449.2" y2="65.14" stroke="#000" stroke-width="1.0"/>
<line x1="274.2" y1="62.23" x2="276.8" y2="62.23" stroke="#000" stroke-width="1.0"/>
<line x1="451.8" y1="62.23" x2="449.2" y2="62.23" stroke="#000" stroke-width="1.0"/>
<line x1="274.2" y1="59.86" x2="276.8" y2="59.86" stroke="#000" stroke-width="1.0"/>
<line x1="451.8" y1="59.86" x2="449.2" y2="59.86" stroke="#000" stroke-width="1.0"/>
<line x1="274.2" y1="57.85" x2="276.8" y2="57.85" stroke="#000" stroke-width="1.0"/>
<line x1="451.8" y1="57.85" x2="449.2" y2="57.85" stroke="#000" stroke-width="1.0"/>
<line x1="274.2" y1="56.11" x2="276.8" y2="56.11" stroke="#000" stroke-width="1.0"/>
<line x1="451.8" y1="56.11" x2="449.2" y2="56.11" stroke="#000" stroke-width="1.0"/>
<line x1="274.2" y1="54.57" x2="276.8" y2="54.57" stroke="#000" stroke-width="1.0"/>
<line x1="451.8" y1="54.57" x2="449.2" y2="54.57" stroke="#000" stroke-width="1.0"/>
<line x1="274.2" y1="53.2" x2="279.2" y2="53.2" stroke="#000" stroke-width="1.0"/>
<line x1="451.8" y1="53.2" x2="446.8" y2="53.2" stroke="#000" stroke-width="1.0"/>
<line x1="274.2" y1="44.17" x2="276.8" y2="44.17" stroke="#000" stroke-width="1.0"/>
<line x1="451.8" y1="44.17" x2="449.2" y2="44.17" stroke="#000" stroke-width="1.0"/>
<line x1="274.2" y1="38.89" x2="276.8" y2="38.89" stroke="#000" stroke-width="1.0"/>
<line x1="451.8" y1="38.89" x2="449.2" y2="38.89" stroke="#000" stroke-width="1.0"/>
<line x1="274.2" y1="35.14" x2="276.8" y2="35.14" stroke="#000" stroke-width="1.0"/>
<line x1="451.8" y1="35.14" x2="449.2" y2="35.14" stroke="#000" stroke-width="1.0"/>
<line x1="274.2" y1="32.23" x2="276.8" y2="32.23" stroke="#000" stroke-width="1.0"/>
<line x1="451.8" y1="32.23" x2="449.2" y2="32.23" stroke="#000" stroke-width="1.0"/>
<line x1="274.2" y1="29.86" x2="276.8" y2="29.86" stroke="#000" stroke-width="1.0"/>
<line x1="451.8" y1="29.86" x2="449.2" y2="29.86" stroke="#000" stroke-width="1.0"/>
<line x1="274.2" y1="27.85" x2="276.8" y2="27.85" stroke="#000" stroke-width="1.0"/>
<line x1="451.8" y1="27.85" x2="449.2" y2="27.85" stroke="#000" stroke-width="1.0"/>
<line x1="274.2" y1="26.11" x2="276.8" y2="26.11" stroke="#000" stroke-width="1.0"/>
<line x1="451.8" y1="26.11" x2="449.2" y2="26.11" stroke="#000" stroke-width="1.0"/>
<line x1="274.2" y1="24.57" x2="276.8" y2="24.57" stroke="#000" stroke-width="1.0"/>
<line x1="451.8" y1="24.57" x2="449.2" y2="24.57" stroke="#000" stroke-width="1.0"/>
<line x1="274.2" y1="23.2" x2="279.2" y2="23.2" stroke="#000" stroke-width="1.0"/>
<line x1="451.8" y1="23.2" x2="446.8" y2="23.2" stroke="#000" stroke-width="1.0"/>
<line x1="274.2" y1="14.17" x2="276.8" y2="14.17" stroke="#000" stroke-width="1.0"/>
<line x1="451.8" y1="14.17" x2="449.2" y2="14.17" stroke="#000" stroke-width="1.0"/>
<line x1="274.2" y1="8.89" x2="276.8" y2="8.89" stroke="#000" stroke-width="1.0"/>
<line x1="451.8" y1="8.89" x2="449.2" y2="8.89" stroke="#000" stroke-width="1.0"/>
<line x1="274.2" y1="5.14" x2="276.8" y2="5.14" stroke="#000" stroke-width="1.0"/>
<line x1="451.8" y1="5.14" x2="449.2" y2="5.14" stroke="#000" stroke-width="1.0"/>
<line x1="274.2" y1="2.23" x2="276.8" y2="2.23" stroke="#000" stroke-width="1.0"/>
<line x1="451.8" y1="2.23" x2="449.2" y2="2.23" stroke="#000" stroke-width="1.0"/>
<text x="269" y="147.6" text-anchor="end" font-size="12">10<tspan font-size="8.6" dy="-5.2">0</tspan></text>
<text x="269" y="117.6" text-anchor="end" font-size="12">10<tspan font-size="8.6" dy="-5.2">1</tspan></text>
<text x="269" y="87.6" text-anchor="end" font-size="12">10<tspan font-size="8.6" dy="-5.2">2</tspan></text>
<text x="269" y="57.6" text-anchor="end" font-size="12">10<tspan font-size="8.6" dy="-5.2">3</tspan></text>
<text x="269" y="27.6" text-anchor="end" font-size="12">10<tspan font-size="8.6" dy="-5.2">4</tspan></text>
<text transform="translate(244.1 72) rotate(-90)" text-anchor="middle" font-size="12">counts/second</text>
<text x="363" y="173.8" text-anchor="middle" font-size="12">2&#952; (<tspan font-size="8" dy="-4.7">o</tspan><tspan dy="4.7">)</tspan></text>
<text x="283.3" y="19.3" text-anchor="start" font-size="12.4" >(b)</text>
<text x="283.6" y="35.9" text-anchor="start" font-size="12.3" >650<tspan font-size="9" dy="-4.7">o</tspan><tspan dy="4.7">C</tspan></text>
<clipPath id="c2"><rect x="507.2" y="0.65" width="176.8" height="142.55"/></clipPath>
<line x1="626" y1="0.65" x2="626" y2="143.2" stroke="#ababab" stroke-width="2.0"/>
<polyline clip-path="url(#c2)" fill="none" stroke="#000" stroke-width="1.0" stroke-linejoin="round" points="507.2,143.2 507.43,134.17 507.67,143.2 507.9,125.14 508.13,134.17 508.37,143.2 508.6,149.2 508.83,143.2 509.06,128.89 509.3,149.2 509.53,149.2 509.76,134.17 510,134.17 510.23,122.23 510.46,134.17 510.7,143.2 510.93,143.2 511.16,128.89 511.39,134.17 511.63,149.2 511.86,134.17 512.09,149.2 512.33,134.17 512.56,128.89 512.79,119.86 513.03,128.89 513.26,143.2 513.49,149.2 513.73,149.2 513.96,128.89 514.19,143.2 514.42,149.2 514.66,119.86 514.89,134.17 515.12,134.17 515.36,134.17 515.59,134.17 515.82,149.2 516.06,143.2 516.29,128.89 516.52,134.17 516.76,128.89 516.99,143.2 517.22,128.89 517.45,134.17 517.69,128.89 517.92,128.89 518.15,134.17 518.39,125.14 518.62,128.89 518.85,149.2 519.09,125.14 519.32,128.89 519.55,143.2 519.78,149.2 520.02,128.89 520.25,128.89 520.48,134.17 520.72,134.17 520.95,134.17 521.18,149.2 521.42,143.2 521.65,125.14 521.88,143.2 522.12,134.17 522.35,134.17 522.58,128.89 522.81,149.2 523.05,143.2 523.28,128.89 523.51,125.14 523.75,149.2 523.98,134.17 524.21,128.89 524.45,128.89 524.68,143.2 524.91,143.2 525.15,134.17 525.38,149.2 525.61,134.17 525.84,149.2 526.08,125.14 526.31,134.17 526.54,134.17 526.78,143.2 527.01,134.17 527.24,143.2 527.48,134.17 527.71,128.89 527.94,134.17 528.17,143.2 528.41,143.2 528.64,134.17 528.87,149.2 529.11,128.89 529.34,128.89 529.57,143.2 529.81,128.89 530.04,149.2 530.27,128.89 530.51,149.2 530.74,134.17 530.97,149.2 531.2,149.2 531.44,134.17 531.67,143.2 531.9,143.2 532.14,149.2 532.37,128.89 532.6,143.2 532.84,128.89 533.07,149.2 533.3,125.14 533.54,134.17 533.77,125.14 534,134.17 534.23,134.17 534.47,149.2 534.7,143.2 534.93,149.2 535.17,125.14 535.4,125.14 535.63,134.17 535.87,149.2 536.1,134.17 536.33,149.2 536.56,143.2 536.8,134.17 537.03,125.14 537.26,134.17 537.5,143.2 537.73,134.17 537.96,143.2 538.2,143.2 538.43,143.2 538.66,149.2 538.9,134.17 539.13,143.2 539.36,143.2 539.59,134.17 539.83,125.14 540.06,125.14 540.29,134.17 540.53,143.2 540.76,149.2 540.99,128.89 541.23,143.2 541.46,128.89 541.69,149.2 541.93,134.17 542.16,143.2 542.39,134.17 542.62,149.2 542.86,143.2 543.09,125.14 543.32,143.2 543.56,149.2 543.79,128.89 544.02,122.23 544.26,143.2 544.49,149.2 544.72,134.17 544.95,134.17 545.19,134.17 545.42,125.14 545.65,122.23 545.89,149.2 546.12,143.2 546.35,143.2 546.59,134.17 546.82,143.2 547.05,134.17 547.29,128.89 547.52,149.2 547.75,149.2 547.98,134.17 548.22,134.17 548.45,143.2 548.68,134.17 548.92,143.2 549.15,143.2 549.38,149.2 549.62,134.17 549.85,149.2 550.08,143.2 550.32,143.2 550.55,134.17 550.78,134.17 551.01,134.17 551.25,143.2 551.48,125.14 551.71,128.89 551.95,149.2 552.18,143.2 552.41,143.2 552.65,143.2 552.88,128.89 553.11,143.2 553.34,134.17 553.58,134.17 553.81,143.2 554.04,143.2 554.28,128.89 554.51,122.23 554.74,134.17 554.98,134.17 555.21,134.17 555.44,143.2 555.68,128.89 555.91,128.89 556.14,128.89 556.37,143.2 556.61,134.17 556.84,134.17 557.07,149.2 557.31,143.2 557.54,143.2 557.77,149.2 558.01,125.14 558.24,143.2 558.47,143.2 558.71,113.2 558.94,143.2 559.17,149.2 559.4,143.2 559.64,143.2 559.87,143.2 560.1,125.14 560.34,143.2 560.57,134.17 560.8,143.2 561.04,143.2 561.27,128.89 561.5,143.2 561.73,143.2 561.97,125.14 562.2,143.2 562.43,149.2 562.67,134.17 562.9,134.17 563.13,143.2 563.37,134.17 563.6,143.2 563.83,143.2 564.07,149.2 564.3,143.2 564.53,134.17 564.76,134.17 565,149.2 565.23,143.2 565.46,149.2 565.7,149.2 565.93,128.89 566.16,128.89 566.4,134.17 566.63,143.2 566.86,134.17 567.1,134.17 567.33,125.14 567.56,128.89 567.79,128.89 568.03,143.2 568.26,125.14 568.49,128.89 568.73,122.23 568.96,119.86 569.19,143.2 569.43,134.17 569.66,134.17 569.89,149.2 570.12,143.2 570.36,125.14 570.59,128.89 570.82,128.89 571.06,134.17 571.29,143.2 571.52,134.17 571.76,128.89 571.99,128.89 572.22,125.14 572.46,143.2 572.69,122.23 572.92,134.17 573.15,134.17 573.39,128.89 573.62,128.89 573.85,149.2 574.09,143.2 574.32,143.2 574.55,134.17 574.79,134.17 575.02,128.89 575.25,134.17 575.48,149.2 575.72,134.17 575.95,149.2 576.18,143.2 576.42,143.2 576.65,143.2 576.88,134.17 577.12,128.89 577.35,134.17 577.58,149.2 577.82,143.2 578.05,143.2 578.28,122.23 578.51,122.23 578.75,134.17 578.98,134.17 579.21,149.2 579.45,128.89 579.68,149.2 579.91,149.2 580.15,125.14 580.38,134.17 580.61,128.89 580.85,134.17 581.08,149.2 581.31,128.89 581.54,143.2 581.78,134.17 582.01,128.89 582.24,134.17 582.48,143.2 582.71,143.2 582.94,128.89 583.18,143.2 583.41,128.89 583.64,134.17 583.87,143.2 584.11,134.17 584.34,134.17 584.57,134.17 584.81,134.17 585.04,122.23 585.27,143.2 585.51,119.86 585.74,134.17 585.97,149.2 586.21,143.2 586.44,134.17 586.67,128.89 586.9,134.17 587.14,143.2 587.37,149.2 587.6,134.17 587.84,134.17 588.07,134.17 588.3,128.89 588.54,149.2 588.77,134.17 589,149.2 589.24,143.2 589.47,143.2 589.7,143.2 589.93,143.2 590.17,122.23 590.4,117.85 590.63,143.2 590.87,134.17 591.1,134.17 591.33,134.17 591.57,128.89 591.8,149.2 592.03,149.2 592.26,143.2 592.5,122.23 592.73,134.17 592.96,149.2 593.2,122.23 593.43,128.89 593.66,128.89 593.9,128.89 594.13,149.2 594.36,134.17 594.6,134.17 594.83,134.17 595.06,128.89 595.29,143.2 595.53,134.17 595.76,143.2 595.99,122.23 596.23,128.89 596.46,125.14 596.69,125.14 596.93,128.89 597.16,119.86 597.39,143.2 597.63,125.14 597.86,128.89 598.09,125.14 598.32,128.89 598.56,125.14 598.79,128.89 599.02,143.2 599.26,134.17 599.49,125.14 599.72,125.14 599.96,125.14 600.19,134.17 600.42,113.2 600.65,114.57 600.89,117.85 601.12,119.86 601.35,110.82 601.59,119.86 601.82,125.14 602.05,125.14 602.29,149.2 602.52,134.17 602.75,128.89 602.99,143.2 603.22,122.23 603.45,117.85 603.68,114.57 603.92,111.96 604.15,110.82 604.38,116.11 604.62,128.89 604.85,125.14 605.08,134.17 605.32,149.2 605.55,119.86 605.78,119.86 606.02,143.2 606.25,128.89 606.48,117.85 606.71,119.86 606.95,113.2 607.18,116.11 607.41,113.2 607.65,117.85 607.88,117.85 608.11,122.23 608.35,143.2 608.58,119.86 608.81,119.86 609.04,128.89 609.28,111.96 609.51,122.23 609.74,119.86 609.98,110.82 610.21,114.61 610.44,104.68 610.68,104.7 610.91,113.2 611.14,116.11 611.38,111.96 611.61,117.85 611.84,114.57 612.07,113.2 612.31,113.2 612.54,109.78 612.77,106.69 613.01,106.18 613.24,101.52 613.47,102.59 613.71,99.54 613.94,103.68 614.17,102.14 614.41,102.06 614.64,111.5 614.87,106.79 615.1,106.44 615.34,107.09 615.57,101.93 615.8,103.3 616.04,96.93 616.27,98.28 616.5,98.4 616.74,93.89 616.97,94.68 617.2,92.54 617.43,92.37 617.67,92.44 617.9,93.78 618.13,95.08 618.37,95.62 618.6,93.74 618.83,87.76 619.07,87.05 619.3,82.97 619.53,80.04 619.77,77.87 620,78.33 620.23,81.97 620.46,87.56 620.7,94.88 620.93,99.88 621.16,87.31 621.4,73.59 621.63,66.51 621.86,61.14 622.1,58.08 622.33,54.49 622.56,52.43 622.8,48.98 623.03,46.54 623.26,44.5 623.49,43.22 623.73,41.53 623.96,40.29 624.19,39.57 624.43,38.82 624.66,38.56 624.89,38.82 625.13,39.63 625.36,41.15 625.59,42.6 625.82,43.9 626.06,45.94 626.29,47.92 626.52,51.01 626.76,54.38 626.99,58.27 627.22,62.01 627.46,67.99 627.69,76.57 627.92,85.06 628.16,101.78 628.39,94.14 628.62,84.44 628.85,82.44 629.09,79.63 629.32,76.54 629.55,77.29 629.79,77.9 630.02,78.91 630.25,72.26 630.49,37.21 630.69,15.19 630.88,9.11 631.07,26.78 631.42,60.53 631.65,88.36 631.88,87.77 632.12,87.18 632.35,87.23 632.58,86.45 632.82,89.77 633.05,94.33 633.28,99 633.52,102.08 633.75,104.4 633.98,107.92 634.21,114.57 634.45,107.08 634.68,104.17 634.91,107.08 635.15,108.48 635.38,104.61 635.61,100.21 635.85,105.76 636.08,106.29 636.31,110.82 636.55,113.2 636.78,125.14 637.01,117.85 637.24,119.86 637.48,122.23 637.71,116.11 637.94,116.11 638.18,110.82 638.41,104.84 638.64,107.42 638.88,111.96 639.11,116.11 639.34,117.85 639.57,119.86 639.81,119.86 640.04,128.89 640.27,143.2 640.51,134.17 640.74,134.17 640.97,122.23 641.21,113.2 641.44,122.23 641.67,111.96 641.91,116.11 642.14,117.85 642.37,117.85 642.6,113.2 642.84,128.89 643.07,149.2 643.3,125.14 643.54,125.14 643.77,116.11 644,128.89 644.24,128.89 644.47,116.11 644.7,119.86 644.94,117.85 645.17,114.57 645.4,122.23 645.63,119.86 645.87,128.89 646.1,128.89 646.33,119.86 646.57,125.14 646.8,128.89 647.03,134.17 647.27,134.17 647.5,117.85 647.73,122.23 647.96,122.23 648.2,119.86 648.43,134.17 648.66,134.17 648.9,125.14 649.13,134.17 649.36,134.17 649.6,134.17 649.83,125.14 650.06,134.17 650.3,128.89 650.53,134.17 650.76,134.17 650.99,134.17 651.23,119.86 651.46,128.89 651.69,125.14 651.93,134.17 652.16,143.2 652.39,128.89 652.63,149.2 652.86,149.2 653.09,125.14 653.33,143.2 653.56,143.2 653.79,143.2 654.02,134.17 654.26,125.14 654.49,143.2 654.72,125.14 654.96,125.14 655.19,117.85 655.42,134.17 655.66,134.17 655.89,125.14 656.12,134.17 656.35,128.89 656.59,128.89 656.82,128.89 657.05,143.2 657.29,134.17 657.52,128.89 657.75,134.17 657.99,134.17 658.22,149.2 658.45,143.2 658.69,143.2 658.92,143.2 659.15,134.17 659.38,143.2 659.62,143.2 659.85,143.2 660.08,149.2 660.32,134.17 660.55,125.14 660.78,143.2 661.02,143.2 661.25,143.2 661.48,134.17 661.72,122.23 661.95,149.2 662.18,143.2 662.41,128.89 662.65,134.17 662.88,134.17 663.11,128.89 663.35,125.14 663.58,134.17 663.81,128.89 664.05,149.2 664.28,128.89 664.51,134.17 664.74,143.2 664.98,128.89 665.21,122.23 665.44,143.2 665.68,128.89 665.91,143.2 666.14,143.2 666.38,134.17 666.61,143.2 666.84,122.23 667.08,134.17 667.31,125.14 667.54,143.2 667.77,143.2 668.01,143.2 668.24,134.17 668.47,128.89 668.71,143.2 668.94,143.2 669.17,134.17 669.41,143.2 669.64,143.2 669.87,125.14 670.11,143.2 670.34,149.2 670.57,125.14 670.8,143.2 671.04,149.2 671.27,128.89 671.5,143.2 671.74,125.14 671.97,134.17 672.2,128.89 672.44,143.2 672.67,149.2 672.9,149.2 673.13,128.89 673.37,134.17 673.6,125.14 673.83,143.2 674.07,122.23 674.3,143.2 674.53,134.17 674.77,134.17 675,134.17 675.23,143.2 675.47,143.2 675.7,128.89 675.93,149.2 676.16,134.17 676.4,149.2 676.63,143.2 676.86,128.89 677.1,125.14 677.33,143.2 677.56,134.17 677.8,134.17 678.03,149.2 678.26,128.89 678.5,143.2 678.73,143.2 678.96,143.2 679.19,143.2 679.43,125.14 679.66,128.89 679.89,143.2 680.13,134.17 680.36,143.2 680.59,149.2 680.83,149.2 681.06,143.2 681.29,125.14 681.52,128.89 681.76,134.17 681.99,128.89 682.22,128.89 682.46,134.17 682.69,143.2 682.92,134.17 683.16,143.2 683.39,149.2 683.62,125.14 683.86,134.17"/>
<polyline clip-path="url(#c2)" fill="none" stroke="#000" stroke-width="1.1" stroke-linejoin="round" points="610.21,114.61 610.44,104.68 610.68,104.7 610.91,113.2 611.14,116.11 611.38,111.96 611.61,117.85 611.84,114.57 612.07,113.2 612.31,113.2 612.54,109.78 612.77,106.69 613.01,106.18 613.24,101.52 613.47,102.59 613.71,99.54 613.94,103.68 614.17,102.14 614.41,102.06 614.64,111.5 614.87,106.79 615.1,106.44 615.34,107.09 615.57,101.93 615.8,103.3 616.04,96.93 616.27,98.28 616.5,98.4 616.74,93.89 616.97,94.68 617.2,92.54 617.43,92.37 617.67,92.44 617.9,93.78 618.13,95.08 618.37,95.62 618.6,93.74 618.83,87.76 619.07,87.05 619.3,82.97 619.53,80.04 619.77,77.87 620,78.33 620.23,81.97 620.46,87.56 620.7,94.88 620.93,99.88 621.16,87.31 621.4,73.59 621.63,66.51 621.86,61.14 622.1,58.08 622.33,54.49 622.56,52.43 622.8,48.98 623.03,46.54 623.26,44.5 623.49,43.22 623.73,41.53 623.96,40.29 624.19,39.57 624.43,38.82 624.66,38.56 624.89,38.82 625.13,39.63 625.36,41.15 625.59,42.6 625.82,43.9 626.06,45.94 626.29,47.92 626.52,51.01 626.76,54.38 626.99,58.27 627.22,62.01 627.46,67.99 627.69,76.57 627.92,85.06 628.16,101.78 628.39,94.14 628.62,84.44 628.85,82.44 629.09,79.63 629.32,76.54 629.55,77.29 629.79,77.9 630.02,78.91 630.25,72.26 630.49,37.21 630.69,15.19"/>
<polyline clip-path="url(#c2)" fill="none" stroke="#000" stroke-width="1.1" stroke-linejoin="round" points="631.42,60.53 631.65,88.36 631.88,87.77 632.12,87.18 632.35,87.23 632.58,86.45 632.82,89.77 633.05,94.33 633.28,99 633.52,102.08 633.75,104.4 633.98,107.92 634.21,114.57 634.45,107.08 634.68,104.17 634.91,107.08 635.15,108.48 635.38,104.61 635.61,100.21 635.85,105.76 636.08,106.29 636.31,110.82 636.55,113.2 636.78,125.14 637.01,117.85 637.24,119.86 637.48,122.23 637.71,116.11 637.94,116.11 638.18,110.82 638.41,104.84 638.64,107.42"/>
<rect x="507.2" y="0.65" width="176.8" height="142.55" fill="none" stroke="#000" stroke-width="1.2"/>
<line x1="523.27" y1="143.2" x2="523.27" y2="140.2" stroke="#000" stroke-width="1.1"/>
<line x1="523.27" y1="0.65" x2="523.27" y2="3.65" stroke="#000" stroke-width="1.1"/>
<line x1="539.35" y1="143.2" x2="539.35" y2="138.2" stroke="#000" stroke-width="1.1"/>
<line x1="539.35" y1="0.65" x2="539.35" y2="5.65" stroke="#000" stroke-width="1.1"/>
<line x1="555.42" y1="143.2" x2="555.42" y2="140.2" stroke="#000" stroke-width="1.1"/>
<line x1="555.42" y1="0.65" x2="555.42" y2="3.65" stroke="#000" stroke-width="1.1"/>
<line x1="571.49" y1="143.2" x2="571.49" y2="138.2" stroke="#000" stroke-width="1.1"/>
<line x1="571.49" y1="0.65" x2="571.49" y2="5.65" stroke="#000" stroke-width="1.1"/>
<line x1="587.56" y1="143.2" x2="587.56" y2="140.2" stroke="#000" stroke-width="1.1"/>
<line x1="587.56" y1="0.65" x2="587.56" y2="3.65" stroke="#000" stroke-width="1.1"/>
<line x1="603.64" y1="143.2" x2="603.64" y2="138.2" stroke="#000" stroke-width="1.1"/>
<line x1="603.64" y1="0.65" x2="603.64" y2="5.65" stroke="#000" stroke-width="1.1"/>
<line x1="619.71" y1="143.2" x2="619.71" y2="140.2" stroke="#000" stroke-width="1.1"/>
<line x1="619.71" y1="0.65" x2="619.71" y2="3.65" stroke="#000" stroke-width="1.1"/>
<line x1="635.78" y1="143.2" x2="635.78" y2="138.2" stroke="#000" stroke-width="1.1"/>
<line x1="635.78" y1="0.65" x2="635.78" y2="5.65" stroke="#000" stroke-width="1.1"/>
<line x1="651.85" y1="143.2" x2="651.85" y2="140.2" stroke="#000" stroke-width="1.1"/>
<line x1="651.85" y1="0.65" x2="651.85" y2="3.65" stroke="#000" stroke-width="1.1"/>
<line x1="667.93" y1="143.2" x2="667.93" y2="138.2" stroke="#000" stroke-width="1.1"/>
<line x1="667.93" y1="0.65" x2="667.93" y2="5.65" stroke="#000" stroke-width="1.1"/>
<text x="507.2" y="158.6" text-anchor="middle" font-size="12" >34</text>
<text x="539.35" y="158.6" text-anchor="middle" font-size="12" >36</text>
<text x="571.49" y="158.6" text-anchor="middle" font-size="12" >38</text>
<text x="603.64" y="158.6" text-anchor="middle" font-size="12" >40</text>
<text x="635.78" y="158.6" text-anchor="middle" font-size="12" >42</text>
<text x="667.93" y="158.6" text-anchor="middle" font-size="12" >44</text>
<line x1="507.2" y1="134.17" x2="509.8" y2="134.17" stroke="#000" stroke-width="1.0"/>
<line x1="684" y1="134.17" x2="681.4" y2="134.17" stroke="#000" stroke-width="1.0"/>
<line x1="507.2" y1="128.89" x2="509.8" y2="128.89" stroke="#000" stroke-width="1.0"/>
<line x1="684" y1="128.89" x2="681.4" y2="128.89" stroke="#000" stroke-width="1.0"/>
<line x1="507.2" y1="125.14" x2="509.8" y2="125.14" stroke="#000" stroke-width="1.0"/>
<line x1="684" y1="125.14" x2="681.4" y2="125.14" stroke="#000" stroke-width="1.0"/>
<line x1="507.2" y1="122.23" x2="509.8" y2="122.23" stroke="#000" stroke-width="1.0"/>
<line x1="684" y1="122.23" x2="681.4" y2="122.23" stroke="#000" stroke-width="1.0"/>
<line x1="507.2" y1="119.86" x2="509.8" y2="119.86" stroke="#000" stroke-width="1.0"/>
<line x1="684" y1="119.86" x2="681.4" y2="119.86" stroke="#000" stroke-width="1.0"/>
<line x1="507.2" y1="117.85" x2="509.8" y2="117.85" stroke="#000" stroke-width="1.0"/>
<line x1="684" y1="117.85" x2="681.4" y2="117.85" stroke="#000" stroke-width="1.0"/>
<line x1="507.2" y1="116.11" x2="509.8" y2="116.11" stroke="#000" stroke-width="1.0"/>
<line x1="684" y1="116.11" x2="681.4" y2="116.11" stroke="#000" stroke-width="1.0"/>
<line x1="507.2" y1="114.57" x2="509.8" y2="114.57" stroke="#000" stroke-width="1.0"/>
<line x1="684" y1="114.57" x2="681.4" y2="114.57" stroke="#000" stroke-width="1.0"/>
<line x1="507.2" y1="113.2" x2="512.2" y2="113.2" stroke="#000" stroke-width="1.0"/>
<line x1="684" y1="113.2" x2="679" y2="113.2" stroke="#000" stroke-width="1.0"/>
<line x1="507.2" y1="104.17" x2="509.8" y2="104.17" stroke="#000" stroke-width="1.0"/>
<line x1="684" y1="104.17" x2="681.4" y2="104.17" stroke="#000" stroke-width="1.0"/>
<line x1="507.2" y1="98.89" x2="509.8" y2="98.89" stroke="#000" stroke-width="1.0"/>
<line x1="684" y1="98.89" x2="681.4" y2="98.89" stroke="#000" stroke-width="1.0"/>
<line x1="507.2" y1="95.14" x2="509.8" y2="95.14" stroke="#000" stroke-width="1.0"/>
<line x1="684" y1="95.14" x2="681.4" y2="95.14" stroke="#000" stroke-width="1.0"/>
<line x1="507.2" y1="92.23" x2="509.8" y2="92.23" stroke="#000" stroke-width="1.0"/>
<line x1="684" y1="92.23" x2="681.4" y2="92.23" stroke="#000" stroke-width="1.0"/>
<line x1="507.2" y1="89.86" x2="509.8" y2="89.86" stroke="#000" stroke-width="1.0"/>
<line x1="684" y1="89.86" x2="681.4" y2="89.86" stroke="#000" stroke-width="1.0"/>
<line x1="507.2" y1="87.85" x2="509.8" y2="87.85" stroke="#000" stroke-width="1.0"/>
<line x1="684" y1="87.85" x2="681.4" y2="87.85" stroke="#000" stroke-width="1.0"/>
<line x1="507.2" y1="86.11" x2="509.8" y2="86.11" stroke="#000" stroke-width="1.0"/>
<line x1="684" y1="86.11" x2="681.4" y2="86.11" stroke="#000" stroke-width="1.0"/>
<line x1="507.2" y1="84.57" x2="509.8" y2="84.57" stroke="#000" stroke-width="1.0"/>
<line x1="684" y1="84.57" x2="681.4" y2="84.57" stroke="#000" stroke-width="1.0"/>
<line x1="507.2" y1="83.2" x2="512.2" y2="83.2" stroke="#000" stroke-width="1.0"/>
<line x1="684" y1="83.2" x2="679" y2="83.2" stroke="#000" stroke-width="1.0"/>
<line x1="507.2" y1="74.17" x2="509.8" y2="74.17" stroke="#000" stroke-width="1.0"/>
<line x1="684" y1="74.17" x2="681.4" y2="74.17" stroke="#000" stroke-width="1.0"/>
<line x1="507.2" y1="68.89" x2="509.8" y2="68.89" stroke="#000" stroke-width="1.0"/>
<line x1="684" y1="68.89" x2="681.4" y2="68.89" stroke="#000" stroke-width="1.0"/>
<line x1="507.2" y1="65.14" x2="509.8" y2="65.14" stroke="#000" stroke-width="1.0"/>
<line x1="684" y1="65.14" x2="681.4" y2="65.14" stroke="#000" stroke-width="1.0"/>
<line x1="507.2" y1="62.23" x2="509.8" y2="62.23" stroke="#000" stroke-width="1.0"/>
<line x1="684" y1="62.23" x2="681.4" y2="62.23" stroke="#000" stroke-width="1.0"/>
<line x1="507.2" y1="59.86" x2="509.8" y2="59.86" stroke="#000" stroke-width="1.0"/>
<line x1="684" y1="59.86" x2="681.4" y2="59.86" stroke="#000" stroke-width="1.0"/>
<line x1="507.2" y1="57.85" x2="509.8" y2="57.85" stroke="#000" stroke-width="1.0"/>
<line x1="684" y1="57.85" x2="681.4" y2="57.85" stroke="#000" stroke-width="1.0"/>
<line x1="507.2" y1="56.11" x2="509.8" y2="56.11" stroke="#000" stroke-width="1.0"/>
<line x1="684" y1="56.11" x2="681.4" y2="56.11" stroke="#000" stroke-width="1.0"/>
<line x1="507.2" y1="54.57" x2="509.8" y2="54.57" stroke="#000" stroke-width="1.0"/>
<line x1="684" y1="54.57" x2="681.4" y2="54.57" stroke="#000" stroke-width="1.0"/>
<line x1="507.2" y1="53.2" x2="512.2" y2="53.2" stroke="#000" stroke-width="1.0"/>
<line x1="684" y1="53.2" x2="679" y2="53.2" stroke="#000" stroke-width="1.0"/>
<line x1="507.2" y1="44.17" x2="509.8" y2="44.17" stroke="#000" stroke-width="1.0"/>
<line x1="684" y1="44.17" x2="681.4" y2="44.17" stroke="#000" stroke-width="1.0"/>
<line x1="507.2" y1="38.89" x2="509.8" y2="38.89" stroke="#000" stroke-width="1.0"/>
<line x1="684" y1="38.89" x2="681.4" y2="38.89" stroke="#000" stroke-width="1.0"/>
<line x1="507.2" y1="35.14" x2="509.8" y2="35.14" stroke="#000" stroke-width="1.0"/>
<line x1="684" y1="35.14" x2="681.4" y2="35.14" stroke="#000" stroke-width="1.0"/>
<line x1="507.2" y1="32.23" x2="509.8" y2="32.23" stroke="#000" stroke-width="1.0"/>
<line x1="684" y1="32.23" x2="681.4" y2="32.23" stroke="#000" stroke-width="1.0"/>
<line x1="507.2" y1="29.86" x2="509.8" y2="29.86" stroke="#000" stroke-width="1.0"/>
<line x1="684" y1="29.86" x2="681.4" y2="29.86" stroke="#000" stroke-width="1.0"/>
<line x1="507.2" y1="27.85" x2="509.8" y2="27.85" stroke="#000" stroke-width="1.0"/>
<line x1="684" y1="27.85" x2="681.4" y2="27.85" stroke="#000" stroke-width="1.0"/>
<line x1="507.2" y1="26.11" x2="509.8" y2="26.11" stroke="#000" stroke-width="1.0"/>
<line x1="684" y1="26.11" x2="681.4" y2="26.11" stroke="#000" stroke-width="1.0"/>
<line x1="507.2" y1="24.57" x2="509.8" y2="24.57" stroke="#000" stroke-width="1.0"/>
<line x1="684" y1="24.57" x2="681.4" y2="24.57" stroke="#000" stroke-width="1.0"/>
<line x1="507.2" y1="23.2" x2="512.2" y2="23.2" stroke="#000" stroke-width="1.0"/>
<line x1="684" y1="23.2" x2="679" y2="23.2" stroke="#000" stroke-width="1.0"/>
<line x1="507.2" y1="14.17" x2="509.8" y2="14.17" stroke="#000" stroke-width="1.0"/>
<line x1="684" y1="14.17" x2="681.4" y2="14.17" stroke="#000" stroke-width="1.0"/>
<line x1="507.2" y1="8.89" x2="509.8" y2="8.89" stroke="#000" stroke-width="1.0"/>
<line x1="684" y1="8.89" x2="681.4" y2="8.89" stroke="#000" stroke-width="1.0"/>
<line x1="507.2" y1="5.14" x2="509.8" y2="5.14" stroke="#000" stroke-width="1.0"/>
<line x1="684" y1="5.14" x2="681.4" y2="5.14" stroke="#000" stroke-width="1.0"/>
<line x1="507.2" y1="2.23" x2="509.8" y2="2.23" stroke="#000" stroke-width="1.0"/>
<line x1="684" y1="2.23" x2="681.4" y2="2.23" stroke="#000" stroke-width="1.0"/>
<text x="502" y="147.6" text-anchor="end" font-size="12">10<tspan font-size="8.6" dy="-5.2">0</tspan></text>
<text x="502" y="117.6" text-anchor="end" font-size="12">10<tspan font-size="8.6" dy="-5.2">1</tspan></text>
<text x="502" y="87.6" text-anchor="end" font-size="12">10<tspan font-size="8.6" dy="-5.2">2</tspan></text>
<text x="502" y="57.6" text-anchor="end" font-size="12">10<tspan font-size="8.6" dy="-5.2">3</tspan></text>
<text x="502" y="27.6" text-anchor="end" font-size="12">10<tspan font-size="8.6" dy="-5.2">4</tspan></text>
<text transform="translate(477.1 72) rotate(-90)" text-anchor="middle" font-size="12">counts/second</text>
<text x="595.6" y="173.8" text-anchor="middle" font-size="12">2&#952; (<tspan font-size="8" dy="-4.7">o</tspan><tspan dy="4.7">)</tspan></text>
<text x="516.3" y="19.3" text-anchor="start" font-size="12.4" >(c)</text>
<text x="516.6" y="35.9" text-anchor="start" font-size="12.3" >800<tspan font-size="9" dy="-4.7">o</tspan><tspan dy="4.7">C</tspan></text>
<rect x="44.4" y="187.4" width="178.2" height="142.4" fill="none" stroke="#000" stroke-width="1.2"/>
<line x1="64.2" y1="329.8" x2="64.2" y2="326.8" stroke="#000" stroke-width="1.1"/>
<line x1="64.2" y1="187.4" x2="64.2" y2="190.4" stroke="#000" stroke-width="1.1"/>
<line x1="84" y1="329.8" x2="84" y2="324.6" stroke="#000" stroke-width="1.1"/>
<line x1="84" y1="187.4" x2="84" y2="192.6" stroke="#000" stroke-width="1.1"/>
<line x1="103.8" y1="329.8" x2="103.8" y2="326.8" stroke="#000" stroke-width="1.1"/>
<line x1="103.8" y1="187.4" x2="103.8" y2="190.4" stroke="#000" stroke-width="1.1"/>
<line x1="123.6" y1="329.8" x2="123.6" y2="324.6" stroke="#000" stroke-width="1.1"/>
<line x1="123.6" y1="187.4" x2="123.6" y2="192.6" stroke="#000" stroke-width="1.1"/>
<line x1="143.4" y1="329.8" x2="143.4" y2="326.8" stroke="#000" stroke-width="1.1"/>
<line x1="143.4" y1="187.4" x2="143.4" y2="190.4" stroke="#000" stroke-width="1.1"/>
<line x1="163.2" y1="329.8" x2="163.2" y2="324.6" stroke="#000" stroke-width="1.1"/>
<line x1="163.2" y1="187.4" x2="163.2" y2="192.6" stroke="#000" stroke-width="1.1"/>
<line x1="183" y1="329.8" x2="183" y2="326.8" stroke="#000" stroke-width="1.1"/>
<line x1="183" y1="187.4" x2="183" y2="190.4" stroke="#000" stroke-width="1.1"/>
<line x1="202.8" y1="329.8" x2="202.8" y2="324.6" stroke="#000" stroke-width="1.1"/>
<line x1="202.8" y1="187.4" x2="202.8" y2="192.6" stroke="#000" stroke-width="1.1"/>
<text x="44.4" y="346.3" text-anchor="middle" font-size="12" >0</text>
<text x="84" y="346.3" text-anchor="middle" font-size="12" >200</text>
<text x="123.6" y="346.3" text-anchor="middle" font-size="12" >400</text>
<text x="163.2" y="346.3" text-anchor="middle" font-size="12" >600</text>
<text x="202.8" y="346.3" text-anchor="middle" font-size="12" >800</text>
<line x1="44.4" y1="297.4" x2="49.6" y2="297.4" stroke="#000" stroke-width="1.1"/>
<line x1="222.6" y1="297.4" x2="217.4" y2="297.4" stroke="#000" stroke-width="1.1"/>
<line x1="44.4" y1="265" x2="49.6" y2="265" stroke="#000" stroke-width="1.1"/>
<line x1="222.6" y1="265" x2="217.4" y2="265" stroke="#000" stroke-width="1.1"/>
<line x1="44.4" y1="232.6" x2="49.6" y2="232.6" stroke="#000" stroke-width="1.1"/>
<line x1="222.6" y1="232.6" x2="217.4" y2="232.6" stroke="#000" stroke-width="1.1"/>
<line x1="44.4" y1="200.2" x2="49.6" y2="200.2" stroke="#000" stroke-width="1.1"/>
<line x1="222.6" y1="200.2" x2="217.4" y2="200.2" stroke="#000" stroke-width="1.1"/>
<line x1="44.4" y1="313.6" x2="47.4" y2="313.6" stroke="#000" stroke-width="1.1"/>
<line x1="222.6" y1="313.6" x2="219.6" y2="313.6" stroke="#000" stroke-width="1.1"/>
<line x1="44.4" y1="281.2" x2="47.4" y2="281.2" stroke="#000" stroke-width="1.1"/>
<line x1="222.6" y1="281.2" x2="219.6" y2="281.2" stroke="#000" stroke-width="1.1"/>
<line x1="44.4" y1="248.8" x2="47.4" y2="248.8" stroke="#000" stroke-width="1.1"/>
<line x1="222.6" y1="248.8" x2="219.6" y2="248.8" stroke="#000" stroke-width="1.1"/>
<line x1="44.4" y1="216.4" x2="47.4" y2="216.4" stroke="#000" stroke-width="1.1"/>
<line x1="222.6" y1="216.4" x2="219.6" y2="216.4" stroke="#000" stroke-width="1.1"/>
<text x="38.6" y="334.1" text-anchor="end" font-size="12" >0.00</text>
<text x="38.6" y="301.7" text-anchor="end" font-size="12" >0.25</text>
<text x="38.6" y="269.3" text-anchor="end" font-size="12" >0.50</text>
<text x="38.6" y="236.9" text-anchor="end" font-size="12" >0.75</text>
<text x="38.6" y="204.5" text-anchor="end" font-size="12" >1.00</text>
<text transform="translate(8.6 258.6) rotate(-90)" text-anchor="middle" font-size="12.6">111 peak intensity (norm.)</text>
<text x="133.7" y="362.4" text-anchor="middle" font-size="12.6">CoPt Growth Temperature (<tspan font-size="9.5" dy="-4.9">o</tspan><tspan dy="4.9">C)</tspan></text>
<circle cx="50" cy="327.2" r="2.45"/>
<circle cx="84" cy="319.2" r="2.45"/>
<circle cx="94" cy="298.2" r="2.45"/>
<circle cx="104" cy="305.4" r="2.45"/>
<circle cx="113.8" cy="295.6" r="2.45"/>
<circle cx="123.6" cy="286.2" r="2.45"/>
<circle cx="133.6" cy="295.6" r="2.45"/>
<circle cx="153.2" cy="302.2" r="2.45"/>
<circle cx="173" cy="298.2" r="2.45"/>
<circle cx="183" cy="290" r="2.45"/>
<circle cx="192.8" cy="260.6" r="2.45"/>
<circle cx="202.6" cy="200.2" r="2.45"/>
<circle cx="212.6" cy="250.6" r="2.45"/>
<text x="60.2" y="208.5" text-anchor="start" font-size="12" >(d)</text>
<rect x="271.6" y="187.4" width="177.7" height="142.1" fill="none" stroke="#000" stroke-width="1.2"/>
<line x1="291.34" y1="329.5" x2="291.34" y2="326.5" stroke="#000" stroke-width="1.1"/>
<line x1="291.34" y1="187.4" x2="291.34" y2="190.4" stroke="#000" stroke-width="1.1"/>
<line x1="311.09" y1="329.5" x2="311.09" y2="324.3" stroke="#000" stroke-width="1.1"/>
<line x1="311.09" y1="187.4" x2="311.09" y2="192.6" stroke="#000" stroke-width="1.1"/>
<line x1="330.83" y1="329.5" x2="330.83" y2="326.5" stroke="#000" stroke-width="1.1"/>
<line x1="330.83" y1="187.4" x2="330.83" y2="190.4" stroke="#000" stroke-width="1.1"/>
<line x1="350.58" y1="329.5" x2="350.58" y2="324.3" stroke="#000" stroke-width="1.1"/>
<line x1="350.58" y1="187.4" x2="350.58" y2="192.6" stroke="#000" stroke-width="1.1"/>
<line x1="370.32" y1="329.5" x2="370.32" y2="326.5" stroke="#000" stroke-width="1.1"/>
<line x1="370.32" y1="187.4" x2="370.32" y2="190.4" stroke="#000" stroke-width="1.1"/>
<line x1="390.07" y1="329.5" x2="390.07" y2="324.3" stroke="#000" stroke-width="1.1"/>
<line x1="390.07" y1="187.4" x2="390.07" y2="192.6" stroke="#000" stroke-width="1.1"/>
<line x1="409.81" y1="329.5" x2="409.81" y2="326.5" stroke="#000" stroke-width="1.1"/>
<line x1="409.81" y1="187.4" x2="409.81" y2="190.4" stroke="#000" stroke-width="1.1"/>
<line x1="429.56" y1="329.5" x2="429.56" y2="324.3" stroke="#000" stroke-width="1.1"/>
<line x1="429.56" y1="187.4" x2="429.56" y2="192.6" stroke="#000" stroke-width="1.1"/>
<text x="271.6" y="345.5" text-anchor="middle" font-size="12" >0</text>
<text x="311.09" y="345.5" text-anchor="middle" font-size="12" >200</text>
<text x="350.58" y="345.5" text-anchor="middle" font-size="12" >400</text>
<text x="390.07" y="345.5" text-anchor="middle" font-size="12" >600</text>
<text x="429.56" y="345.5" text-anchor="middle" font-size="12" >800</text>
<line x1="271.6" y1="319" x2="276.8" y2="319" stroke="#000" stroke-width="1.1"/>
<line x1="449.3" y1="319" x2="444.1" y2="319" stroke="#000" stroke-width="1.1"/>
<line x1="271.6" y1="278.3" x2="276.8" y2="278.3" stroke="#000" stroke-width="1.1"/>
<line x1="449.3" y1="278.3" x2="444.1" y2="278.3" stroke="#000" stroke-width="1.1"/>
<line x1="271.6" y1="237.6" x2="276.8" y2="237.6" stroke="#000" stroke-width="1.1"/>
<line x1="449.3" y1="237.6" x2="444.1" y2="237.6" stroke="#000" stroke-width="1.1"/>
<line x1="271.6" y1="196.9" x2="276.8" y2="196.9" stroke="#000" stroke-width="1.1"/>
<line x1="449.3" y1="196.9" x2="444.1" y2="196.9" stroke="#000" stroke-width="1.1"/>
<line x1="271.6" y1="327.14" x2="274.6" y2="327.14" stroke="#000" stroke-width="1.1"/>
<line x1="449.3" y1="327.14" x2="446.3" y2="327.14" stroke="#000" stroke-width="1.1"/>
<line x1="271.6" y1="310.86" x2="274.6" y2="310.86" stroke="#000" stroke-width="1.1"/>
<line x1="449.3" y1="310.86" x2="446.3" y2="310.86" stroke="#000" stroke-width="1.1"/>
<line x1="271.6" y1="302.72" x2="274.6" y2="302.72" stroke="#000" stroke-width="1.1"/>
<line x1="449.3" y1="302.72" x2="446.3" y2="302.72" stroke="#000" stroke-width="1.1"/>
<line x1="271.6" y1="294.58" x2="274.6" y2="294.58" stroke="#000" stroke-width="1.1"/>
<line x1="449.3" y1="294.58" x2="446.3" y2="294.58" stroke="#000" stroke-width="1.1"/>
<line x1="271.6" y1="286.44" x2="274.6" y2="286.44" stroke="#000" stroke-width="1.1"/>
<line x1="449.3" y1="286.44" x2="446.3" y2="286.44" stroke="#000" stroke-width="1.1"/>
<line x1="271.6" y1="270.16" x2="274.6" y2="270.16" stroke="#000" stroke-width="1.1"/>
<line x1="449.3" y1="270.16" x2="446.3" y2="270.16" stroke="#000" stroke-width="1.1"/>
<line x1="271.6" y1="262.02" x2="274.6" y2="262.02" stroke="#000" stroke-width="1.1"/>
<line x1="449.3" y1="262.02" x2="446.3" y2="262.02" stroke="#000" stroke-width="1.1"/>
<line x1="271.6" y1="253.88" x2="274.6" y2="253.88" stroke="#000" stroke-width="1.1"/>
<line x1="449.3" y1="253.88" x2="446.3" y2="253.88" stroke="#000" stroke-width="1.1"/>
<line x1="271.6" y1="245.74" x2="274.6" y2="245.74" stroke="#000" stroke-width="1.1"/>
<line x1="449.3" y1="245.74" x2="446.3" y2="245.74" stroke="#000" stroke-width="1.1"/>
<line x1="271.6" y1="229.46" x2="274.6" y2="229.46" stroke="#000" stroke-width="1.1"/>
<line x1="449.3" y1="229.46" x2="446.3" y2="229.46" stroke="#000" stroke-width="1.1"/>
<line x1="271.6" y1="221.32" x2="274.6" y2="221.32" stroke="#000" stroke-width="1.1"/>
<line x1="449.3" y1="221.32" x2="446.3" y2="221.32" stroke="#000" stroke-width="1.1"/>
<line x1="271.6" y1="213.18" x2="274.6" y2="213.18" stroke="#000" stroke-width="1.1"/>
<line x1="449.3" y1="213.18" x2="446.3" y2="213.18" stroke="#000" stroke-width="1.1"/>
<line x1="271.6" y1="205.04" x2="274.6" y2="205.04" stroke="#000" stroke-width="1.1"/>
<line x1="449.3" y1="205.04" x2="446.3" y2="205.04" stroke="#000" stroke-width="1.1"/>
<line x1="271.6" y1="188.76" x2="274.6" y2="188.76" stroke="#000" stroke-width="1.1"/>
<line x1="449.3" y1="188.76" x2="446.3" y2="188.76" stroke="#000" stroke-width="1.1"/>
<text x="265.8" y="323.3" text-anchor="end" font-size="12" >20</text>
<text x="265.8" y="282.6" text-anchor="end" font-size="12" >30</text>
<text x="265.8" y="241.9" text-anchor="end" font-size="12" >40</text>
<text x="265.8" y="201.2" text-anchor="end" font-size="12" >50</text>
<text transform="translate(246.4 258.45) rotate(-90)" text-anchor="middle" font-size="12.6">CoPt Crystallite Size (nm)</text>
<text x="360.65" y="362" text-anchor="middle" font-size="12.6">CoPt Growth Temperature (<tspan font-size="9.5" dy="-4.9">o</tspan><tspan dy="4.9">C)</tspan></text>
<circle cx="276.6" cy="295.2" r="2.45"/>
<circle cx="311" cy="264.2" r="2.45"/>
<circle cx="320.8" cy="257.6" r="2.45"/>
<circle cx="330.6" cy="252.6" r="2.45"/>
<circle cx="340.4" cy="253.6" r="2.45"/>
<circle cx="350.3" cy="251.6" r="2.45"/>
<circle cx="360.2" cy="264.2" r="2.45"/>
<circle cx="379.8" cy="282.6" r="2.45"/>
<circle cx="399.4" cy="306" r="2.45"/>
<circle cx="409.4" cy="311.8" r="2.45"/>
<circle cx="419.4" cy="270.4" r="2.45"/>
<circle cx="429.4" cy="201.2" r="2.45"/>
<circle cx="439" cy="199.2" r="2.45"/>
<text x="286" y="208.3" text-anchor="start" font-size="12" >(e)</text>
<rect x="506.9" y="189" width="177.1" height="142.2" fill="none" stroke="#000" stroke-width="1.2"/>
<line x1="526.58" y1="331.2" x2="526.58" y2="328.2" stroke="#000" stroke-width="1.1"/>
<line x1="526.58" y1="189" x2="526.58" y2="192" stroke="#000" stroke-width="1.1"/>
<line x1="546.26" y1="331.2" x2="546.26" y2="326" stroke="#000" stroke-width="1.1"/>
<line x1="546.26" y1="189" x2="546.26" y2="194.2" stroke="#000" stroke-width="1.1"/>
<line x1="565.93" y1="331.2" x2="565.93" y2="328.2" stroke="#000" stroke-width="1.1"/>
<line x1="565.93" y1="189" x2="565.93" y2="192" stroke="#000" stroke-width="1.1"/>
<line x1="585.61" y1="331.2" x2="585.61" y2="326" stroke="#000" stroke-width="1.1"/>
<line x1="585.61" y1="189" x2="585.61" y2="194.2" stroke="#000" stroke-width="1.1"/>
<line x1="605.29" y1="331.2" x2="605.29" y2="328.2" stroke="#000" stroke-width="1.1"/>
<line x1="605.29" y1="189" x2="605.29" y2="192" stroke="#000" stroke-width="1.1"/>
<line x1="624.97" y1="331.2" x2="624.97" y2="326" stroke="#000" stroke-width="1.1"/>
<line x1="624.97" y1="189" x2="624.97" y2="194.2" stroke="#000" stroke-width="1.1"/>
<line x1="644.64" y1="331.2" x2="644.64" y2="328.2" stroke="#000" stroke-width="1.1"/>
<line x1="644.64" y1="189" x2="644.64" y2="192" stroke="#000" stroke-width="1.1"/>
<line x1="664.32" y1="331.2" x2="664.32" y2="326" stroke="#000" stroke-width="1.1"/>
<line x1="664.32" y1="189" x2="664.32" y2="194.2" stroke="#000" stroke-width="1.1"/>
<text x="506.9" y="347.3" text-anchor="middle" font-size="12" >0</text>
<text x="546.26" y="347.3" text-anchor="middle" font-size="12" >200</text>
<text x="585.61" y="347.3" text-anchor="middle" font-size="12" >400</text>
<text x="624.97" y="347.3" text-anchor="middle" font-size="12" >600</text>
<text x="664.32" y="347.3" text-anchor="middle" font-size="12" >800</text>
<line x1="506.9" y1="274.1" x2="512.1" y2="274.1" stroke="#000" stroke-width="1.1"/>
<line x1="684" y1="274.1" x2="678.8" y2="274.1" stroke="#000" stroke-width="1.1"/>
<line x1="506.9" y1="217" x2="512.1" y2="217" stroke="#000" stroke-width="1.1"/>
<line x1="684" y1="217" x2="678.8" y2="217" stroke="#000" stroke-width="1.1"/>
<line x1="506.9" y1="302.65" x2="509.9" y2="302.65" stroke="#000" stroke-width="1.1"/>
<line x1="684" y1="302.65" x2="681" y2="302.65" stroke="#000" stroke-width="1.1"/>
<line x1="506.9" y1="245.55" x2="509.9" y2="245.55" stroke="#000" stroke-width="1.1"/>
<line x1="684" y1="245.55" x2="681" y2="245.55" stroke="#000" stroke-width="1.1"/>
<line x1="506.9" y1="188.45" x2="509.9" y2="188.45" stroke="#000" stroke-width="1.1"/>
<line x1="684" y1="188.45" x2="681" y2="188.45" stroke="#000" stroke-width="1.1"/>
<text x="500.1" y="335.5" text-anchor="end" font-size="12" >0.217</text>
<text x="500.1" y="278.4" text-anchor="end" font-size="12" >0.218</text>
<text x="500.1" y="221.3" text-anchor="end" font-size="12" >0.219</text>
<text transform="translate(463.9 260.1) rotate(-90)" text-anchor="middle" font-size="12.6"><tspan font-style="italic">c</tspan>-plane spacing (nm)</text>
<text x="595.65" y="363.8" text-anchor="middle" font-size="12.6">CoPt Growth Temperature (<tspan font-size="9.5" dy="-4.9">o</tspan><tspan dy="4.9">C)</tspan></text>
<circle cx="512.4" cy="216.2" r="2.45"/>
<circle cx="546" cy="253.8" r="2.45"/>
<circle cx="555.9" cy="270" r="2.45"/>
<circle cx="565.7" cy="282.4" r="2.45"/>
<circle cx="575.5" cy="281.9" r="2.45"/>
<circle cx="585.4" cy="286.6" r="2.45"/>
<circle cx="595.2" cy="303.2" r="2.45"/>
<circle cx="615" cy="287.6" r="2.45"/>
<circle cx="634.8" cy="237.8" r="2.45"/>
<circle cx="644.8" cy="234" r="2.45"/>
<circle cx="654.5" cy="243.9" r="2.45"/>
<circle cx="664.4" cy="252" r="2.45"/>
<circle cx="674.1" cy="247.5" r="2.45"/>
<text x="524" y="209" text-anchor="start" font-size="12" >(f)</text>
<line x1="506.9" y1="274.7" x2="684" y2="274.7" stroke="#000" stroke-width="1.2"/>
<text x="681" y="272" text-anchor="end" font-size="12.5" >CoPt 111 bulk</text>
</svg>
</body></html>
